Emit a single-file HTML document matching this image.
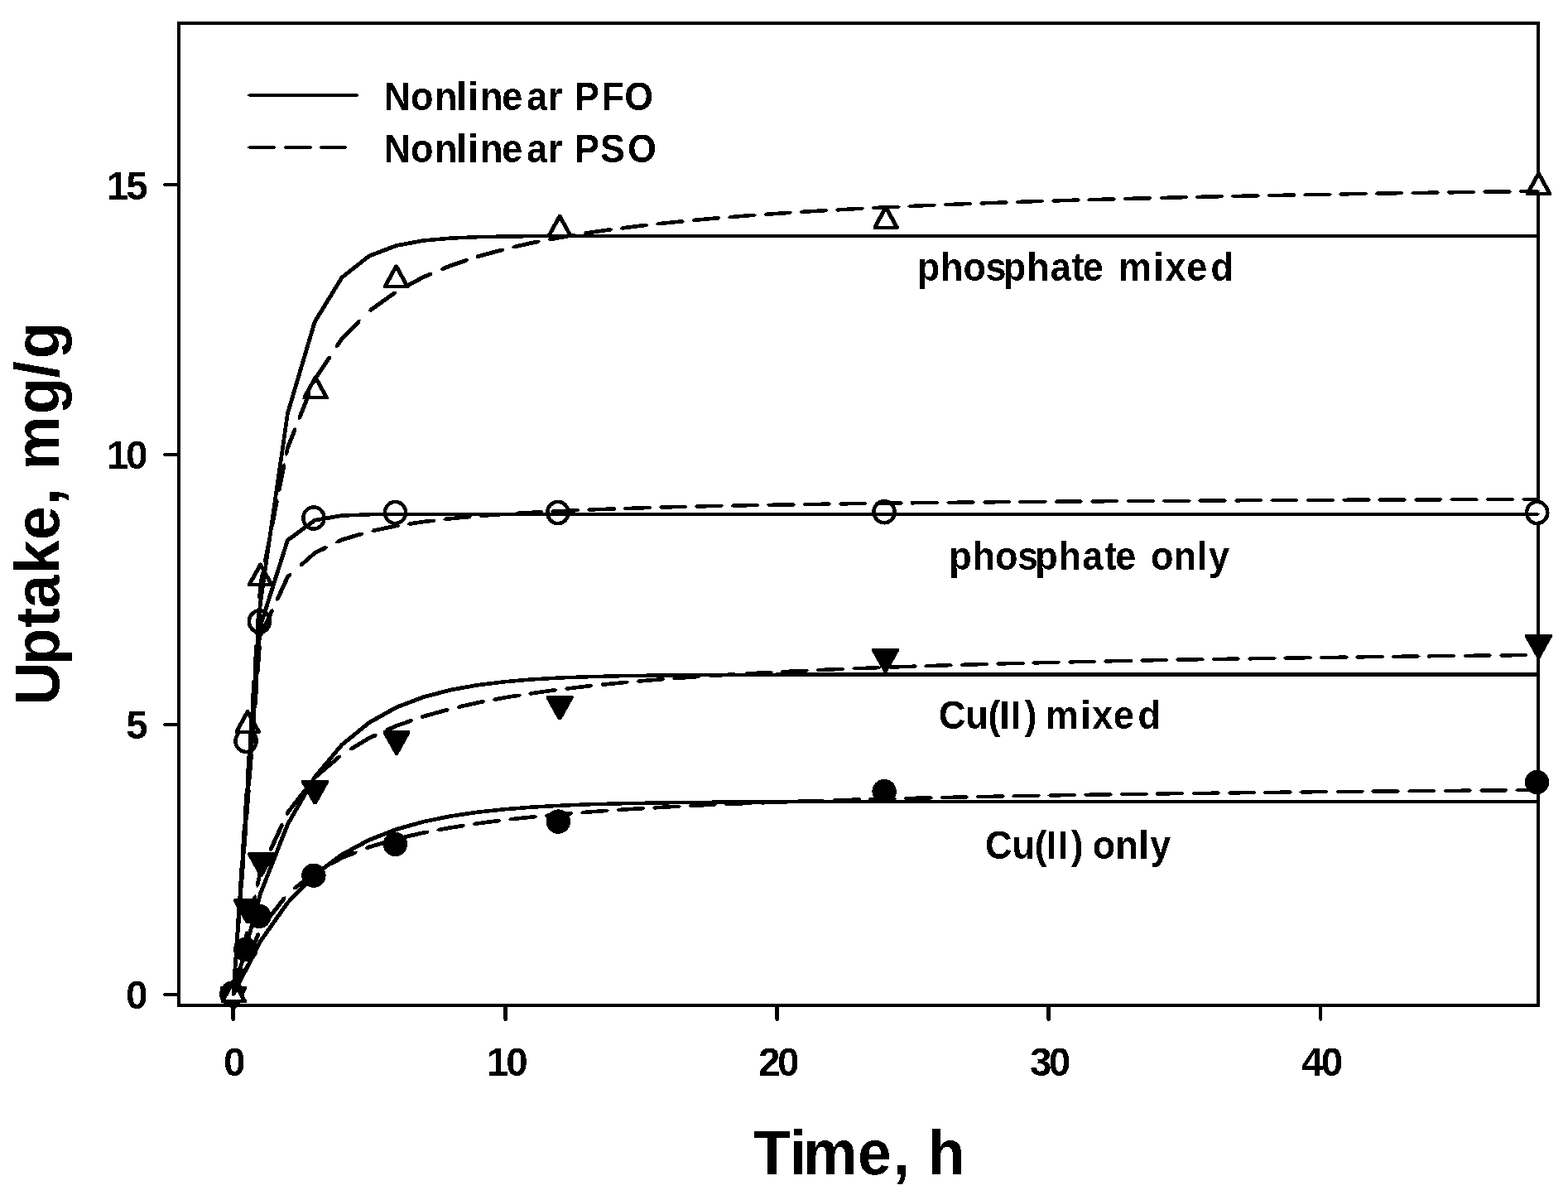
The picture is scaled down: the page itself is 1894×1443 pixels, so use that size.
<!DOCTYPE html>
<html lang="en">
<head>
<meta charset="utf-8">
<title>Uptake vs Time</title>
<style>
html,body{margin:0;padding:0;background:#fff;}
body{width:1894px;height:1443px;overflow:hidden;}
svg{display:block;filter:contrast(1000);}
</style>
</head>
<body>
<svg width="1894" height="1443" viewBox="0 0 1894 1443">
<rect x="0" y="0" width="1894" height="1443" fill="#fff"/>
<g id="axes" fill="#000" shape-rendering="crispEdges">
<rect x="214" y="26" width="1646" height="4"/>
<rect x="214" y="1212" width="1646" height="4"/>
<rect x="214" y="26" width="4" height="1190"/>
<rect x="1856" y="26" width="4" height="1190"/>
<rect x="198" y="1199" width="17" height="4"/>
<rect x="197" y="1200" width="2" height="2"/>
<rect x="198" y="873" width="17" height="4"/>
<rect x="197" y="874" width="2" height="2"/>
<rect x="198" y="547" width="17" height="4"/>
<rect x="197" y="548" width="2" height="2"/>
<rect x="198" y="221" width="17" height="4"/>
<rect x="197" y="222" width="2" height="2"/>
<polygon points="279,1215 284,1215 284,1231 283,1232 282.5,1233 280.5,1233 280,1232 279,1231"/>
<polygon points="608,1215 613,1215 613,1231 612,1232 611.5,1233 609.5,1233 609,1232 608,1231"/>
<polygon points="936,1215 941,1215 941,1231 940,1232 939.5,1233 937.5,1233 937,1232 936,1231"/>
<polygon points="1264,1215 1269,1215 1269,1231 1268,1232 1267.5,1233 1265.5,1233 1265,1232 1264,1231"/>
<polygon points="1593,1215 1597,1215 1597,1231 1596,1232 1596.0,1233 1594.0,1233 1594,1232 1593,1231"/>
</g>
<g id="markers" stroke="#000" shape-rendering="crispEdges">
<ellipse cx="280.4" cy="1199.9" rx="12.6" ry="13.1" fill="#fff" stroke-width="4.5"/>
<ellipse cx="297.1" cy="894.8" rx="12.6" ry="13.1" fill="#fff" stroke-width="4.5"/>
<ellipse cx="313.5" cy="750.5" rx="12.6" ry="13.1" fill="#fff" stroke-width="4.5"/>
<ellipse cx="378.9" cy="625.6" rx="12.6" ry="13.1" fill="#fff" stroke-width="4.5"/>
<ellipse cx="477.5" cy="619.0" rx="12.6" ry="13.1" fill="#fff" stroke-width="4.5"/>
<ellipse cx="673.9" cy="619.0" rx="12.6" ry="13.1" fill="#fff" stroke-width="4.5"/>
<ellipse cx="1068.1" cy="618.2" rx="12.6" ry="13.1" fill="#fff" stroke-width="4.5"/>
<ellipse cx="1856.7" cy="619.0" rx="12.6" ry="13.1" fill="#fff" stroke-width="4.5"/>
<circle cx="279.8" cy="1200.3" r="14.7" fill="#000" stroke="none"/>
<circle cx="296.8" cy="1146.5" r="14.7" fill="#000" stroke="none"/>
<circle cx="313.0" cy="1106.4" r="14.7" fill="#000" stroke="none"/>
<circle cx="378.9" cy="1057.2" r="14.7" fill="#000" stroke="none"/>
<circle cx="477.4" cy="1019.5" r="14.7" fill="#000" stroke="none"/>
<circle cx="674.4" cy="992.1" r="14.7" fill="#000" stroke="none"/>
<circle cx="1068.1" cy="955.6" r="14.7" fill="#000" stroke="none"/>
<circle cx="1856.6" cy="944.5" r="14.7" fill="#000" stroke="none"/>
<polygon points="266.4,1190.5 297.6,1190.5 298.4,1191.3 298.4,1193.5 283.8,1219.7 280.2,1219.7 265.6,1193.5 265.6,1191.3" fill="#000" stroke="none"/>
<polygon points="282.9,1085.4 314.1,1085.4 314.9,1086.2 314.9,1088.4 300.3,1114.6 296.7,1114.6 282.1,1088.4 282.1,1086.2" fill="#000" stroke="none"/>
<polygon points="299.9,1029.3 331.1,1029.3 331.9,1030.1 331.9,1032.3 317.3,1058.5 313.7,1058.5 299.1,1032.3 299.1,1030.1" fill="#000" stroke="none"/>
<polygon points="364.9,942.1 396.1,942.1 396.9,942.9 396.9,945.1 382.3,971.3 378.7,971.3 364.1,945.1 364.1,942.9" fill="#000" stroke="none"/>
<polygon points="463.4,882.3 494.6,882.3 495.4,883.1 495.4,885.3 480.8,911.5 477.2,911.5 462.6,885.3 462.6,883.1" fill="#000" stroke="none"/>
<polygon points="660.5,840.1 691.7,840.1 692.5,840.9 692.5,843.1 677.9,869.3 674.3,869.3 659.7,843.1 659.7,840.9" fill="#000" stroke="none"/>
<polygon points="1053.9,783.0 1085.1,783.0 1085.9,783.8 1085.9,786.0 1071.3,812.2 1067.7,812.2 1053.1,786.0 1053.1,783.8" fill="#000" stroke="none"/>
<polygon points="1842.8,766.0 1874.0,766.0 1874.8,766.8 1874.8,769.0 1860.2,795.2 1856.6,795.2 1842.0,769.0 1842.0,766.8" fill="#000" stroke="none"/>
<polygon points="268.6,1209.0 295.6,1209.0 282.1,1184.5" fill="#fff" stroke="#000" stroke-width="2.6" stroke-linejoin="miter"/>
<path d="M266.6,1207.6L267.1,1207.1L297.1,1207.1L297.6,1207.6L297.6,1210.5L297.1,1211L267.1,1211L266.6,1210.5ZM280.1,1183.1L280.6,1182.6L283.6,1182.6L284.1,1183.1L297.6,1207.6L297.6,1210.5L297.1,1211L294.1,1211L293.6,1210.5L280.1,1186ZM266.6,1207.6L280.1,1183.1L280.6,1182.6L283.6,1182.6L284.1,1183.1L284.1,1186L270.6,1210.5L270.1,1211L267.1,1211L266.6,1210.5Z" fill="#000" stroke="none"/>
<polygon points="285.6,883.8 312.6,883.8 299.1,859.2" fill="#fff" stroke="#000" stroke-width="2.6" stroke-linejoin="miter"/>
<path d="M283.6,882.3L284.1,881.8L314.1,881.8L314.6,882.3L314.6,885.2L314.1,885.7L284.1,885.7L283.6,885.2ZM297.1,857.8L297.6,857.3L300.6,857.3L301.1,857.8L314.6,882.3L314.6,885.2L314.1,885.7L311.1,885.7L310.6,885.2L297.1,860.7ZM283.6,882.3L297.1,857.8L297.6,857.3L300.6,857.3L301.1,857.8L301.1,860.7L287.6,885.2L287.1,885.7L284.1,885.7L283.6,885.2Z" fill="#000" stroke="none"/>
<polygon points="301.1,706.1 328.1,706.1 314.6,681.6" fill="#fff" stroke="#000" stroke-width="2.6" stroke-linejoin="miter"/>
<path d="M299.1,704.7L299.6,704.2L329.6,704.2L330.1,704.7L330.1,707.6L329.6,708.1L299.6,708.1L299.1,707.6ZM312.6,680.2L313.1,679.7L316.1,679.7L316.6,680.2L330.1,704.7L330.1,707.6L329.6,708.1L326.6,708.1L326.1,707.6L312.6,683.1ZM299.1,704.7L312.6,680.2L313.1,679.7L316.1,679.7L316.6,680.2L316.6,683.1L303.1,707.6L302.6,708.1L299.6,708.1L299.1,707.6Z" fill="#000" stroke="none"/>
<polygon points="367.6,480.2 394.6,480.2 381.1,455.8" fill="#fff" stroke="#000" stroke-width="2.6" stroke-linejoin="miter"/>
<path d="M365.6,478.8L366.1,478.3L396.1,478.3L396.6,478.8L396.6,481.7L396.1,482.2L366.1,482.2L365.6,481.7ZM379.1,454.3L379.6,453.8L382.6,453.8L383.1,454.3L396.6,478.8L396.6,481.7L396.1,482.2L393.1,482.2L392.6,481.7L379.1,457.2ZM365.6,478.8L379.1,454.3L379.6,453.8L382.6,453.8L383.1,454.3L383.1,457.2L369.6,481.7L369.1,482.2L366.1,482.2L365.6,481.7Z" fill="#000" stroke="none"/>
<polygon points="465.1,345.9 492.1,345.9 478.6,321.4" fill="#fff" stroke="#000" stroke-width="2.6" stroke-linejoin="miter"/>
<path d="M463.1,344.5L463.6,344L493.6,344L494.1,344.5L494.1,347.4L493.6,347.9L463.6,347.9L463.1,347.4ZM476.6,320L477.1,319.5L480.1,319.5L480.6,320L494.1,344.5L494.1,347.4L493.6,347.9L490.6,347.9L490.1,347.4L476.6,322.9ZM463.1,344.5L476.6,320L477.1,319.5L480.1,319.5L480.6,320L480.6,322.9L467.1,347.4L466.6,347.9L463.6,347.9L463.1,347.4Z" fill="#000" stroke="none"/>
<polygon points="662.6,285.4 689.6,285.4 676.1,260.9" fill="#fff" stroke="#000" stroke-width="2.6" stroke-linejoin="miter"/>
<path d="M660.6,284L661.1,283.5L691,283.5L691.5,284L691.5,286.9L691,287.4L661.1,287.4L660.6,286.9ZM674.1,259.5L674.6,259L677.5,259L678,259.5L691.5,284L691.5,286.9L691,287.4L688.1,287.4L687.6,286.9L674.1,262.4ZM660.6,284L674.1,259.5L674.6,259L677.5,259L678,259.5L678,262.4L664.5,286.9L664,287.4L661.1,287.4L660.6,286.9Z" fill="#000" stroke="none"/>
<polygon points="1056.5,274.8 1083.5,274.8 1070.0,250.3" fill="#fff" stroke="#000" stroke-width="2.6" stroke-linejoin="miter"/>
<path d="M1054.5,273.4L1055,272.9L1085,272.9L1085.5,273.4L1085.5,276.2L1085,276.8L1055,276.8L1054.5,276.2ZM1068,248.8L1068.5,248.3L1071.5,248.3L1072,248.8L1085.5,273.4L1085.5,276.2L1085,276.8L1082,276.8L1081.5,276.2L1068,251.8ZM1054.5,273.4L1068,248.8L1068.5,248.3L1071.5,248.3L1072,248.8L1072,251.8L1058.5,276.2L1058,276.8L1055,276.8L1054.5,276.2Z" fill="#000" stroke="none"/>
<polygon points="1845.0,234.0 1872.0,234.0 1858.5,209.5" fill="#fff" stroke="#000" stroke-width="2.6" stroke-linejoin="miter"/>
<path d="M1843,232.5L1843.5,232L1873.5,232L1874,232.5L1874,235.4L1873.5,235.9L1843.5,235.9L1843,235.4ZM1856.5,208L1857,207.5L1860,207.5L1860.5,208L1874,232.5L1874,235.4L1873.5,235.9L1870.5,235.9L1870,235.4L1856.5,210.9ZM1843,232.5L1856.5,208L1857,207.5L1860,207.5L1860.5,208L1860.5,210.9L1847,235.4L1846.5,235.9L1843.5,235.9L1843,235.4Z" fill="#000" stroke="none"/>
</g>
<g id="curves" fill="#000" stroke="none" shape-rendering="crispEdges">
<path d="M279.6,1198.2L312.3,726.9L313.3,725.9L315.7,725.9L316.7,726.9L316.7,729.3L284,1200.6L283,1201.6L281.5,1203L279.6,1200.6ZM312.3,726.9L345.2,498.1L346.2,497.1L348.6,497.1L349.6,498.1L349.6,500.5L316.7,729.3L315.7,730.3L313.3,730.3L312.3,729.3ZM345.2,498.1L378,387.4L379,386.4L381.4,386.4L382.4,387.4L382.4,389.8L349.6,500.5L348.6,501.5L346.2,501.5L345.2,500.5ZM378,387.4L410.8,333.9L411.8,332.9L414.2,332.9L415.2,333.9L415.2,336.2L382.4,389.8L381.4,390.8L379,390.8L378,389.8ZM410.8,333.9L411.8,332.9L444.7,306.9L447.1,306.9L448.1,307.9L448.1,310.3L447.1,311.3L414.2,337.2L411.8,337.2L410.8,336.2ZM443.7,307.9L444.7,306.9L477.5,294.4L479.9,294.4L480.9,295.4L480.9,297.8L479.9,298.8L447.1,311.3L444.7,311.3L443.7,310.3ZM476.5,295.4L477.5,294.4L510.4,288.3L512.8,288.3L513.8,289.3L513.8,291.7L512.8,292.7L479.9,298.8L477.5,298.8L476.5,297.8ZM509.4,289.3L510.4,288.3L543.2,285.4L545.6,285.4L546.6,286.4L546.6,288.8L545.6,289.8L512.8,292.7L510.4,292.7L509.4,291.7ZM542.2,286.4L543.2,285.4L576,284L578.4,284L579.4,285L579.4,287.4L578.4,288.4L545.6,289.8L543.2,289.8L542.2,288.8ZM575,285L576,284L608.9,283.3L611.3,283.3L612.3,284.3L612.3,286.7L611.3,287.7L578.4,288.4L576,288.4L575,287.4ZM607.9,284.3L608.9,283.3L641.7,283L644.1,283L645.1,284L645.1,286.4L644.1,287.4L611.3,287.7L608.9,287.7L607.9,286.7ZM640.7,284L641.7,283L674.6,282.8L677,282.8L678,283.8L678,286.2L677,287.2L644.1,287.4L641.7,287.4L640.7,286.4ZM673.6,283.8L674.6,282.8L707.4,282.7L709.8,282.7L710.8,283.7L710.8,286.1L709.8,287.1L677,287.2L674.6,287.2L673.6,286.2ZM706.4,283.7L707.4,282.7L740.2,282.7L742.6,282.7L743.6,283.7L743.6,286.1L742.6,287.1L709.8,287.1L707.4,287.1L706.4,286.1ZM739.2,283.7L740.2,282.7L773.1,282.7L775.5,282.7L776.5,283.7L776.5,286.1L775.5,287.1L742.6,287.1L740.2,287.1L739.2,286.1ZM772.1,283.7L773.1,282.7L805.9,282.6L808.3,282.6L809.3,283.6L809.3,286.1L808.3,287.1L775.5,287.1L773.1,287.1L772.1,286.1ZM804.9,283.6L805.9,282.6L838.8,282.6L841.2,282.6L842.2,283.6L842.2,286L841.2,287L808.3,287.1L805.9,287.1L804.9,286.1ZM837.8,283.6L838.8,282.6L871.6,282.6L874,282.6L875,283.6L875,286L874,287L841.2,287L838.8,287L837.8,286ZM870.6,283.6L871.6,282.6L904.4,282.6L906.8,282.6L907.8,283.6L907.8,286L906.8,287L874,287L871.6,287L870.6,286ZM903.4,283.6L904.4,282.6L937.3,282.6L939.7,282.6L940.7,283.6L940.7,286L939.7,287L906.8,287L904.4,287L903.4,286ZM936.3,283.6L937.3,282.6L972.5,282.6L973.5,283.6L973.5,286L972.5,287L937.3,287L936.3,286ZM969.1,283.6L970.1,282.6L1005.4,282.6L1006.4,283.6L1006.4,286L1005.4,287L970.1,287L969.1,286ZM1002,283.6L1003,282.6L1038.2,282.6L1039.2,283.6L1039.2,286L1038.2,287L1003,287L1002,286ZM1034.8,283.6L1035.8,282.6L1071,282.6L1072,283.6L1072,286L1071,287L1035.8,287L1034.8,286ZM1067.6,283.6L1068.6,282.6L1103.9,282.6L1104.9,283.6L1104.9,286L1103.9,287L1068.6,287L1067.6,286ZM1100.5,283.6L1101.5,282.6L1136.7,282.6L1137.7,283.6L1137.7,286L1136.7,287L1101.5,287L1100.5,286ZM1133.3,283.6L1134.3,282.6L1169.6,282.6L1170.6,283.6L1170.6,286L1169.6,287L1134.3,287L1133.3,286ZM1166.2,283.6L1167.2,282.6L1202.4,282.6L1203.4,283.6L1203.4,286L1202.4,287L1167.2,287L1166.2,286ZM1199,283.6L1200,282.6L1235.2,282.6L1236.2,283.6L1236.2,286L1235.2,287L1200,287L1199,286ZM1231.8,283.6L1232.8,282.6L1268.1,282.6L1269.1,283.6L1269.1,286L1268.1,287L1232.8,287L1231.8,286ZM1264.7,283.6L1265.7,282.6L1300.9,282.6L1301.9,283.6L1301.9,286L1300.9,287L1265.7,287L1264.7,286ZM1297.5,283.6L1298.5,282.6L1333.8,282.6L1334.8,283.6L1334.8,286L1333.8,287L1298.5,287L1297.5,286ZM1330.4,283.6L1331.4,282.6L1366.6,282.6L1367.6,283.6L1367.6,286L1366.6,287L1331.4,287L1330.4,286ZM1363.2,283.6L1364.2,282.6L1399.4,282.6L1400.4,283.6L1400.4,286L1399.4,287L1364.2,287L1363.2,286ZM1396,283.6L1397,282.6L1432.3,282.6L1433.3,283.6L1433.3,286L1432.3,287L1397,287L1396,286ZM1428.9,283.6L1429.9,282.6L1465.1,282.6L1466.1,283.6L1466.1,286L1465.1,287L1429.9,287L1428.9,286ZM1461.7,283.6L1462.7,282.6L1498,282.6L1499,283.6L1499,286L1498,287L1462.7,287L1461.7,286ZM1494.6,283.6L1495.6,282.6L1530.8,282.6L1531.8,283.6L1531.8,286L1530.8,287L1495.6,287L1494.6,286ZM1527.4,283.6L1528.4,282.6L1563.6,282.6L1564.6,283.6L1564.6,286L1563.6,287L1528.4,287L1527.4,286ZM1560.2,283.6L1561.2,282.6L1596.5,282.6L1597.5,283.6L1597.5,286L1596.5,287L1561.2,287L1560.2,286ZM1593.1,283.6L1594.1,282.6L1629.3,282.6L1630.3,283.6L1630.3,286L1629.3,287L1594.1,287L1593.1,286ZM1625.9,283.6L1626.9,282.6L1662.2,282.6L1663.2,283.6L1663.2,286L1662.2,287L1626.9,287L1625.9,286ZM1658.8,283.6L1659.8,282.6L1695,282.6L1696,283.6L1696,286L1695,287L1659.8,287L1658.8,286ZM1691.6,283.6L1692.6,282.6L1727.8,282.6L1728.8,283.6L1728.8,286L1727.8,287L1692.6,287L1691.6,286ZM1724.4,283.6L1725.4,282.6L1760.7,282.6L1761.7,283.6L1761.7,286L1760.7,287L1725.4,287L1724.4,286ZM1757.3,283.6L1758.3,282.6L1793.5,282.6L1794.5,283.6L1794.5,286L1793.5,287L1758.3,287L1757.3,286ZM1790.1,283.6L1791.1,282.6L1826.4,282.6L1827.4,283.6L1827.4,286L1826.4,287L1791.1,287L1790.1,286ZM1823,283.6L1824,282.6L1857.6,282.6L1860,284.8L1857.6,287L1824,287L1823,286Z"/>
<path d="M279.6,1197.5L281.5,1169.7L282.5,1168.7L283.9,1167.3L285.9,1169.7L285.9,1172.1L284,1199.9L283,1200.9L281.6,1202.3L279.6,1199.9ZM282.5,1154L284.4,1126.2L285.4,1125.2L286.8,1123.8L288.8,1126.2L288.8,1128.6L286.9,1156.4L285.9,1157.4L284.5,1158.8L282.5,1156.4ZM285.4,1110.6L287.2,1082.8L288.2,1081.8L289.7,1080.4L291.6,1082.8L291.6,1085.2L289.8,1113L288.8,1114L287.4,1115.4L285.4,1113ZM288.3,1067.2L290.1,1039.4L291.1,1038.4L292.6,1037L294.5,1039.4L294.5,1041.8L292.7,1069.6L291.7,1070.6L290.2,1072L288.3,1069.6ZM291.2,1023.7L293,995.9L294,994.9L295.4,993.5L297.4,995.9L297.4,998.3L295.6,1026.1L294.6,1027.1L293.1,1028.5L291.2,1026.1ZM294,980.3L295.9,952.5L296.9,951.5L298.3,950.1L300.3,952.5L300.3,954.9L298.4,982.7L297.4,983.7L296,985.1L294,982.7ZM296.9,936.9L298.8,909.1L299.8,908.1L301.2,906.7L303.2,909.1L303.2,911.5L301.3,939.3L300.3,940.3L298.9,941.7L296.9,939.3ZM299.8,893.5L301.6,865.6L302.6,864.6L304.1,863.3L306,865.6L306,868L304.2,895.9L303.2,896.9L301.8,898.2L299.8,895.9ZM302.7,850L304.5,822.2L305.5,821.2L307,819.8L308.9,822.2L308.9,824.6L307.1,852.4L306.1,853.4L304.6,854.8L302.7,852.4ZM305.6,806.6L307.4,778.8L308.4,777.8L309.8,776.4L311.8,778.8L311.8,781.2L310,809L309,810L307.5,811.4L305.6,809ZM308.4,763.2L310.3,735.4L311.3,734.4L312.7,733L314.7,735.4L314.7,737.8L312.8,765.6L311.8,766.6L310.4,768L308.4,765.6ZM311.3,719.7L312.3,704.7L313.3,703.7L315.7,703.7L316.7,704.7L316.7,707.1L315.7,722.1L314.7,723.1L313.3,724.5L311.3,722.1ZM312.3,704.7L314.9,691.9L315.9,690.9L317.8,689.6L319.3,691.9L319.3,694.3L316.7,707.1L315.7,708.1L313.3,708.1L312.3,707.1ZM318,676.3L323.5,648.5L324.5,647.5L326.4,646.1L327.9,648.5L327.9,650.9L322.4,678.7L321.4,679.7L319.5,681.1L318,678.7ZM326.6,632.9L332.1,605L333.1,604L335,602.7L336.5,605L336.5,607.4L331,635.3L330,636.3L328.1,637.6L326.6,635.3ZM335.2,589.5L340.8,561.6L341.8,560.6L343.7,559.3L345.2,561.6L345.2,564L339.6,591.9L338.6,592.9L336.7,594.2L335.2,591.9ZM343.9,546L345.2,539.6L346.2,538.6L348.6,538.6L349.6,539.6L349.6,542L348.3,548.4L347.3,549.4L345.4,550.8L343.9,548.4ZM345.2,539.6L353.7,518.1L354.7,517.1L357.2,516L358.1,518.1L358.1,520.5L349.6,542L348.6,543L346.2,543L345.2,542ZM359.8,502.7L371,474.7L372,473.7L374.5,472.5L375.4,474.7L375.4,477.1L364.2,505.1L363.2,506.1L360.7,507.2L359.8,505.1ZM377.1,459.3L378,457.1L379,456.1L381.4,456.1L382.4,457.1L382.4,459.5L381.5,461.7L380.5,462.7L378,463.8L377.1,461.7ZM378,457.1L395.2,431.1L396.2,430.1L399.4,429.3L399.6,431.1L399.6,433.5L382.4,459.5L381.4,460.5L379,460.5L378,459.5ZM405.3,416L410.8,407.6L411.8,406.6L414.2,406.6L415.2,407.6L415.2,410L409.7,418.4L408.7,419.4L405.5,420.2L405.3,418.4ZM410.8,407.6L430.8,387.5L431.8,386.5L435.6,386.1L435.2,389.9L415.2,410L414.2,411L411.8,411L410.8,410ZM444.9,376.4L445.6,373.1L446.6,372.1L475,351.8L477.4,351.8L479.2,351.9L478.4,355.2L477.4,356.2L449,376.5L446.6,376.5ZM488.2,347.1L489.2,344.2L490.2,343.2L510.4,332.3L512.8,332.3L513.8,333.3L513.8,335.7L512.8,336.7L492.6,347.6L490.2,347.6ZM509.4,333.3L510.4,332.3L518.3,329L520.7,329L522.8,329.8L521.7,332.4L520.7,333.4L512.8,336.7L510.4,336.7L509.4,335.7ZM531.6,326.1L532.7,323.5L533.7,322.5L543.2,318.5L545.6,318.5L546.6,319.5L546.6,321.9L545.6,322.9L536.1,326.9L533.7,326.9ZM542.2,319.5L543.2,318.5L561.7,312.3L564.1,312.3L566.3,313.4L565.1,315.7L564.1,316.7L545.6,322.9L543.2,322.9L542.2,321.9ZM574.8,308.6L575.8,307.6L576,307.5L578.4,307.5L579.4,308.5L579.4,310.9L578.4,311.9L578.2,312L575.8,312L574.8,311ZM575,308.5L576,307.5L605.1,299.6L607.5,299.6L609.8,300.8L608.5,303L607.5,304L578.4,311.9L576,311.9L575,310.9ZM618.3,298.8L619.6,296.8L620.6,295.8L641.7,291L644.1,291L645.1,292L645.1,294.4L644.1,295.4L623,300.2L620.6,300.2ZM640.7,292L641.7,291L648.5,289.7L650.9,289.7L653.2,291.2L651.9,293.1L650.9,294.1L644.1,295.4L641.7,295.4L640.7,294.4ZM661.7,289.6L663.1,287.7L664.1,286.7L674.6,284.7L677,284.7L678,285.7L678,288.1L677,289.1L666.5,291.1L664.1,291.1ZM673.6,285.7L674.6,284.7L691.9,281.8L694.3,281.8L696.7,283.4L695.3,285.2L694.3,286.2L677,289.1L674.6,289.1L673.6,288.1ZM705.1,282L705.6,280.4L706.6,279.4L707.4,279.2L709.8,279.2L710.8,280.2L710.8,282.6L709.8,283.6L709,283.8L706.6,283.8L705.6,282.8ZM706.4,280.2L707.4,279.2L735.3,275.2L737.7,275.2L740.1,276.9L738.7,278.6L737.7,279.6L709.8,283.6L707.4,283.6L706.4,282.6ZM748.6,275.8L749.9,274.2L750.9,273.2L773.1,270.4L775.5,270.4L776.5,271.4L776.5,273.8L775.5,274.8L753.3,277.6L750.9,277.6ZM772.1,271.4L773.1,270.4L778.8,269.8L781.2,269.8L783.5,271.6L782.2,273.2L781.2,274.2L775.5,274.8L773.1,274.8L772.1,273.8ZM792,270.6L793.4,269L794.4,268L805.9,266.8L808.3,266.8L809.3,267.8L809.3,270.2L808.3,271.2L796.8,272.4L794.4,272.4ZM804.9,267.8L805.9,266.8L822.2,265.2L824.6,265.2L827,267L825.6,268.6L824.6,269.6L808.3,271.2L805.9,271.2L804.9,270.2ZM835.4,266.2L836.4,264.7L837.4,263.7L838.8,263.5L841.2,263.5L842.2,264.5L842.2,266.9L841.2,267.9L839.8,268.1L837.4,268.1ZM837.8,264.5L838.8,263.5L865.6,261.1L868,261.1L870.4,263L869,264.6L868,265.6L841.2,267.9L838.8,267.9L837.8,266.9ZM878.8,262.3L880.2,260.9L881.2,259.9L904.4,258L906.8,258L907.8,259L907.8,261.4L906.8,262.4L883.6,264.3L881.2,264.3ZM903.4,259L904.4,258L909,257.7L911.4,257.7L913.8,259.6L912.4,261.1L911.4,262.1L906.8,262.4L904.4,262.4L903.4,261.4ZM922.3,259L923.7,257.6L924.7,256.6L937.3,255.7L939.7,255.7L940.7,256.7L940.7,259.1L939.7,260.1L927.1,261L924.7,261ZM936.3,256.7L937.3,255.7L952.5,254.7L954.9,254.7L957.3,256.6L955.9,258.1L954.9,259.1L939.7,260.1L937.3,260.1L936.3,259.1ZM965.7,256.1L967.1,254.6L968.1,253.6L970.1,253.5L972.5,253.5L973.5,254.5L973.5,256.9L972.5,257.9L970.5,258L968.1,258ZM969.1,254.5L970.1,253.5L995.9,252L998.3,252L1000.7,254L999.3,255.4L998.3,256.4L972.5,257.9L970.1,257.9L969.1,256.9ZM1009.1,253.5L1010.5,252.1L1011.5,251.1L1035.8,249.8L1038.2,249.8L1039.2,250.8L1039.2,253.2L1038.2,254.2L1013.9,255.5L1011.5,255.5ZM1034.8,250.8L1035.8,249.8L1039.3,249.6L1041.7,249.6L1044.1,251.6L1041.7,254L1038.2,254.2L1035.8,254.2L1034.8,253.2ZM1052.6,251.2L1055,248.8L1068.6,248.1L1071,248.1L1072,249.1L1072,251.5L1071,252.5L1057.4,253.2L1055,253.2ZM1067.6,249.1L1068.6,248.1L1082.8,247.5L1085.2,247.5L1087.6,249.5L1085.2,251.9L1071,252.5L1068.6,252.5L1067.6,251.5ZM1096,249.1L1098.4,246.7L1101.5,246.6L1103.9,246.6L1104.9,247.6L1104.9,250L1103.9,251L1100.8,251.1L1098.4,251.1ZM1100.5,247.6L1101.5,246.6L1126.2,245.5L1128.6,245.5L1131,247.6L1128.6,249.9L1103.9,251L1101.5,251L1100.5,250ZM1139.4,247.2L1141.8,244.9L1167.2,243.9L1169.6,243.9L1170.6,244.9L1170.6,247.3L1169.6,248.3L1144.2,249.3L1141.8,249.3ZM1166.2,244.9L1167.2,243.9L1169.6,243.8L1172,243.8L1174.4,245.8L1172,248.2L1169.6,248.3L1167.2,248.3L1166.2,247.3ZM1182.9,245.5L1185.2,243.2L1200,242.7L1202.4,242.7L1203.4,243.7L1203.4,246.1L1202.4,247.1L1187.7,247.6L1185.2,247.6ZM1199,243.7L1200,242.7L1213.1,242.2L1215.5,242.2L1217.8,244.3L1215.5,246.6L1202.4,247.1L1200,247.1L1199,246.1ZM1226.3,244L1228.7,241.7L1232.8,241.5L1235.2,241.5L1236.2,242.5L1236.2,244.9L1235.2,245.9L1231.1,246.1L1228.7,246.1ZM1231.8,242.5L1232.8,241.5L1256.5,240.7L1258.9,240.7L1261.3,242.8L1258.9,245.1L1235.2,245.9L1232.8,245.9L1231.8,244.9ZM1269.7,242.6L1272.1,240.3L1298.5,239.4L1300.9,239.4L1301.9,240.4L1301.9,242.8L1300.9,243.8L1274.5,244.7L1272.1,244.7ZM1297.5,240.4L1298.5,239.4L1300.2,239.4L1302.6,239.4L1304.7,241.5L1303.6,242.8L1302.6,243.8L1300.9,243.8L1298.5,243.8L1297.5,242.8ZM1313.1,241.3L1315.5,239L1331.4,238.5L1333.8,238.5L1334.8,239.5L1334.8,241.9L1333.8,242.9L1317.9,243.4L1315.5,243.4ZM1330.4,239.5L1331.4,238.5L1343.3,238.2L1345.7,238.2L1348.1,240.3L1345.7,242.6L1333.8,242.9L1331.4,242.9L1330.4,241.9ZM1356.6,240.1L1359,237.8L1364.2,237.6L1366.6,237.6L1367.6,238.6L1367.6,241L1366.6,242L1361.4,242.2L1359,242.2ZM1363.2,238.6L1364.2,237.6L1386.8,237.1L1389.2,237.1L1391.6,239.2L1389.2,241.5L1366.6,242L1364.2,242L1363.2,241ZM1400,239L1402.4,236.7L1429.9,236L1432.3,236L1433.3,237L1433.3,239.4L1432.3,240.4L1404.8,241.1L1402.4,241.1ZM1428.9,237L1429.9,236L1430.9,236L1433.3,236L1434.3,237L1435,238.1L1434.3,239.4L1433.3,240.4L1432.3,240.4L1429.9,240.4L1428.9,239.4ZM1443.4,237.9L1445.8,235.6L1462.7,235.3L1465.1,235.3L1466.1,236.3L1466.1,238.7L1465.1,239.7L1448.2,240L1445.8,240ZM1461.7,236.3L1462.7,235.3L1473.6,235L1476,235L1478.4,237.2L1476,239.4L1465.1,239.7L1462.7,239.7L1461.7,238.7ZM1486.9,237L1489.3,234.7L1495.6,234.6L1498,234.6L1499,235.6L1499,238L1498,239L1491.7,239.1L1489.3,239.1ZM1494.6,235.6L1495.6,234.6L1517.1,234.1L1519.5,234.1L1521.9,236.3L1519.5,238.5L1498,239L1495.6,239L1494.6,238ZM1530.3,236.1L1532.7,233.8L1561.2,233.3L1563.6,233.3L1564.6,234.3L1564.6,236.7L1563.6,237.7L1535.1,238.2L1532.7,238.2ZM1560.2,234.3L1561.2,233.3L1561.7,233.2L1564.1,233.2L1565.1,234.2L1565.3,235.4L1565.1,236.7L1564.1,237.7L1563.6,237.7L1561.2,237.7L1560.2,236.7ZM1573.7,235.3L1576.1,233L1594.1,232.7L1596.5,232.7L1597.5,233.7L1597.5,236.1L1596.5,237.1L1578.5,237.4L1576.1,237.4ZM1593.1,233.7L1594.1,232.7L1603.9,232.5L1606.3,232.5L1608.7,234.6L1606.3,236.9L1596.5,237.1L1594.1,237.1L1593.1,236.1ZM1617.2,234.5L1619.6,232.2L1626.9,232.1L1629.3,232.1L1630.3,233.1L1630.3,235.5L1629.3,236.5L1622,236.6L1619.6,236.6ZM1625.9,233.1L1626.9,232.1L1647.4,231.7L1649.8,231.7L1652.2,233.9L1649.8,236.1L1629.3,236.5L1626.9,236.5L1625.9,235.5ZM1660.6,233.7L1663,231.5L1690.8,231L1693.2,231L1695.6,233.2L1693.2,235.4L1665.4,235.9L1663,235.9ZM1704,233.1L1706.4,230.8L1725.4,230.5L1727.8,230.5L1728.8,231.5L1728.8,233.9L1727.8,234.9L1708.8,235.2L1706.4,235.2ZM1724.4,231.5L1725.4,230.5L1734.2,230.4L1736.6,230.4L1739,232.5L1736.6,234.8L1727.8,234.9L1725.4,234.9L1724.4,233.9ZM1747.4,232.4L1749.8,230.2L1758.3,230L1760.7,230L1761.7,231L1761.7,233.4L1760.7,234.4L1752.2,234.6L1749.8,234.6ZM1757.3,231L1758.3,230L1777.6,229.8L1780,229.8L1782.4,231.9L1780,234.2L1760.7,234.4L1758.3,234.4L1757.3,233.4ZM1790.9,231.8L1793.3,229.5L1821.1,229.2L1823.5,229.2L1825.9,231.3L1823.5,233.6L1795.7,233.9L1793.3,233.9ZM1834.3,231.2L1836.7,229L1855.2,228.7L1857.6,228.7L1860,230.9L1857.6,233.1L1839.1,233.4L1836.7,233.4Z"/>
<path d="M279.6,1198.2L312.3,754.8L313.3,753.8L315.7,753.8L316.7,754.8L316.7,757.2L284,1200.6L283,1201.6L281.5,1203L279.6,1200.6ZM312.3,754.8L345.2,651.2L346.2,650.2L348.6,650.2L349.6,651.2L349.6,653.6L316.7,757.2L315.7,758.2L313.3,758.2L312.3,757.2ZM345.2,651.2L346.2,650.2L379,626L381.4,626L382.4,627L382.4,629.5L381.4,630.5L348.6,654.6L346.2,654.6L345.2,653.6ZM378,627L379,626L411.8,620.4L414.2,620.4L415.2,621.4L415.2,623.8L414.2,624.8L381.4,630.5L379,630.5L378,629.5ZM410.8,621.4L411.8,620.4L444.7,619.1L447.1,619.1L448.1,620.1L448.1,622.5L447.1,623.5L414.2,624.8L411.8,624.8L410.8,623.8ZM443.7,620.1L444.7,619.1L477.5,618.8L479.9,618.8L480.9,619.8L480.9,622.2L479.9,623.2L447.1,623.5L444.7,623.5L443.7,622.5ZM476.5,619.8L477.5,618.8L510.4,618.7L512.8,618.7L513.8,619.7L513.8,622.1L512.8,623.1L479.9,623.2L477.5,623.2L476.5,622.2ZM509.4,619.7L510.4,618.7L543.2,618.7L545.6,618.7L546.6,619.7L546.6,622.1L545.6,623.1L512.8,623.1L510.4,623.1L509.4,622.1ZM542.2,619.7L543.2,618.7L576,618.7L578.4,618.7L579.4,619.7L579.4,622.1L578.4,623.1L545.6,623.1L543.2,623.1L542.2,622.1ZM575,619.7L576,618.7L608.9,618.7L611.3,618.7L612.3,619.7L612.3,622.1L611.3,623.1L578.4,623.1L576,623.1L575,622.1ZM607.9,619.7L608.9,618.7L644.1,618.7L645.1,619.7L645.1,622.1L644.1,623.1L608.9,623.1L607.9,622.1ZM640.7,619.7L641.7,618.7L677,618.7L678,619.7L678,622.1L677,623.1L641.7,623.1L640.7,622.1ZM673.6,619.7L674.6,618.7L709.8,618.7L710.8,619.7L710.8,622.1L709.8,623.1L674.6,623.1L673.6,622.1ZM706.4,619.7L707.4,618.7L742.6,618.7L743.6,619.7L743.6,622.1L742.6,623.1L707.4,623.1L706.4,622.1ZM739.2,619.7L740.2,618.7L775.5,618.7L776.5,619.7L776.5,622.1L775.5,623.1L740.2,623.1L739.2,622.1ZM772.1,619.7L773.1,618.7L808.3,618.7L809.3,619.7L809.3,622.1L808.3,623.1L773.1,623.1L772.1,622.1ZM804.9,619.7L805.9,618.7L841.2,618.7L842.2,619.7L842.2,622.1L841.2,623.1L805.9,623.1L804.9,622.1ZM837.8,619.7L838.8,618.7L874,618.7L875,619.7L875,622.1L874,623.1L838.8,623.1L837.8,622.1ZM870.6,619.7L871.6,618.7L906.8,618.7L907.8,619.7L907.8,622.1L906.8,623.1L871.6,623.1L870.6,622.1ZM903.4,619.7L904.4,618.7L939.7,618.7L940.7,619.7L940.7,622.1L939.7,623.1L904.4,623.1L903.4,622.1ZM936.3,619.7L937.3,618.7L972.5,618.7L973.5,619.7L973.5,622.1L972.5,623.1L937.3,623.1L936.3,622.1ZM969.1,619.7L970.1,618.7L1005.4,618.7L1006.4,619.7L1006.4,622.1L1005.4,623.1L970.1,623.1L969.1,622.1ZM1002,619.7L1003,618.7L1038.2,618.7L1039.2,619.7L1039.2,622.1L1038.2,623.1L1003,623.1L1002,622.1ZM1034.8,619.7L1035.8,618.7L1071,618.7L1072,619.7L1072,622.1L1071,623.1L1035.8,623.1L1034.8,622.1ZM1067.6,619.7L1068.6,618.7L1103.9,618.7L1104.9,619.7L1104.9,622.1L1103.9,623.1L1068.6,623.1L1067.6,622.1ZM1100.5,619.7L1101.5,618.7L1136.7,618.7L1137.7,619.7L1137.7,622.1L1136.7,623.1L1101.5,623.1L1100.5,622.1ZM1133.3,619.7L1134.3,618.7L1169.6,618.7L1170.6,619.7L1170.6,622.1L1169.6,623.1L1134.3,623.1L1133.3,622.1ZM1166.2,619.7L1167.2,618.7L1202.4,618.7L1203.4,619.7L1203.4,622.1L1202.4,623.1L1167.2,623.1L1166.2,622.1ZM1199,619.7L1200,618.7L1235.2,618.7L1236.2,619.7L1236.2,622.1L1235.2,623.1L1200,623.1L1199,622.1ZM1231.8,619.7L1232.8,618.7L1268.1,618.7L1269.1,619.7L1269.1,622.1L1268.1,623.1L1232.8,623.1L1231.8,622.1ZM1264.7,619.7L1265.7,618.7L1300.9,618.7L1301.9,619.7L1301.9,622.1L1300.9,623.1L1265.7,623.1L1264.7,622.1ZM1297.5,619.7L1298.5,618.7L1333.8,618.7L1334.8,619.7L1334.8,622.1L1333.8,623.1L1298.5,623.1L1297.5,622.1ZM1330.4,619.7L1331.4,618.7L1366.6,618.7L1367.6,619.7L1367.6,622.1L1366.6,623.1L1331.4,623.1L1330.4,622.1ZM1363.2,619.7L1364.2,618.7L1399.4,618.7L1400.4,619.7L1400.4,622.1L1399.4,623.1L1364.2,623.1L1363.2,622.1ZM1396,619.7L1397,618.7L1432.3,618.7L1433.3,619.7L1433.3,622.1L1432.3,623.1L1397,623.1L1396,622.1ZM1428.9,619.7L1429.9,618.7L1465.1,618.7L1466.1,619.7L1466.1,622.1L1465.1,623.1L1429.9,623.1L1428.9,622.1ZM1461.7,619.7L1462.7,618.7L1498,618.7L1499,619.7L1499,622.1L1498,623.1L1462.7,623.1L1461.7,622.1ZM1494.6,619.7L1495.6,618.7L1530.8,618.7L1531.8,619.7L1531.8,622.1L1530.8,623.1L1495.6,623.1L1494.6,622.1ZM1527.4,619.7L1528.4,618.7L1563.6,618.7L1564.6,619.7L1564.6,622.1L1563.6,623.1L1528.4,623.1L1527.4,622.1ZM1560.2,619.7L1561.2,618.7L1596.5,618.7L1597.5,619.7L1597.5,622.1L1596.5,623.1L1561.2,623.1L1560.2,622.1ZM1593.1,619.7L1594.1,618.7L1629.3,618.7L1630.3,619.7L1630.3,622.1L1629.3,623.1L1594.1,623.1L1593.1,622.1ZM1625.9,619.7L1626.9,618.7L1662.2,618.7L1663.2,619.7L1663.2,622.1L1662.2,623.1L1626.9,623.1L1625.9,622.1ZM1658.8,619.7L1659.8,618.7L1695,618.7L1696,619.7L1696,622.1L1695,623.1L1659.8,623.1L1658.8,622.1ZM1691.6,619.7L1692.6,618.7L1727.8,618.7L1728.8,619.7L1728.8,622.1L1727.8,623.1L1692.6,623.1L1691.6,622.1ZM1724.4,619.7L1725.4,618.7L1760.7,618.7L1761.7,619.7L1761.7,622.1L1760.7,623.1L1725.4,623.1L1724.4,622.1ZM1757.3,619.7L1758.3,618.7L1793.5,618.7L1794.5,619.7L1794.5,622.1L1793.5,623.1L1758.3,623.1L1757.3,622.1ZM1790.1,619.7L1791.1,618.7L1826.4,618.7L1827.4,619.7L1827.4,622.1L1826.4,623.1L1791.1,623.1L1790.1,622.1ZM1823,619.7L1824,618.7L1857.6,618.7L1860,620.9L1857.6,623.1L1824,623.1L1823,622.1Z"/>
<path d="M279.6,1198.2L281.6,1171.4L282.6,1170.4L284.1,1169L286,1171.4L286,1173.8L284,1200.6L283,1201.6L281.5,1203L279.6,1200.6ZM282.8,1155.8L284.9,1128L285.9,1127L287.4,1125.6L289.3,1128L289.3,1130.4L287.2,1158.2L286.2,1159.2L284.7,1160.6L282.8,1158.2ZM286.1,1112.3L288.2,1084.5L289.2,1083.5L290.7,1082.1L292.6,1084.5L292.6,1086.9L290.5,1114.7L289.5,1115.7L288,1117.1L286.1,1114.7ZM289.4,1068.9L291.5,1041.1L292.5,1040.1L294,1038.7L295.9,1041.1L295.9,1043.5L293.8,1071.3L292.8,1072.3L291.3,1073.7L289.4,1071.3ZM292.7,1025.5L294.8,997.7L295.8,996.7L297.3,995.3L299.2,997.7L299.2,1000.1L297.1,1027.9L296.1,1028.9L294.6,1030.3L292.7,1027.9ZM296,982L298.1,954.2L299.1,953.2L300.6,951.8L302.5,954.2L302.5,956.6L300.4,984.4L299.4,985.4L297.9,986.8L296,984.4ZM299.3,938.6L301.4,910.8L302.4,909.8L303.9,908.4L305.8,910.8L305.8,913.2L303.7,941L302.7,942L301.2,943.4L299.3,941ZM302.6,895.2L304.7,867.4L305.7,866.4L307.2,865L309.1,867.4L309.1,869.8L307,897.6L306,898.6L304.5,900L302.6,897.6ZM305.9,851.8L308,823.9L309,822.9L310.4,821.6L312.4,823.9L312.4,826.3L310.3,854.2L309.3,855.2L307.8,856.5L305.9,854.2ZM309.2,808.3L311.3,780.5L312.3,779.5L313.7,778.1L315.7,780.5L315.7,782.9L313.6,810.7L312.6,811.7L311.1,813.1L309.2,810.7ZM313.1,765L326.1,736.9L327.1,735.9L329.8,734.9L330.5,736.9L330.5,739.3L317.5,767.4L316.5,768.4L313.8,769.5L313.1,767.4ZM333.2,721.6L345.2,695.7L346.2,694.7L348.6,694.7L349.6,695.7L349.6,698.1L337.6,724L336.6,725L333.8,726.1L333.2,724ZM345.2,695.7L346.2,694.7L348.6,692.5L352.4,692.3L352,695.9L351,696.9L348.6,699.1L346.2,699.1L345.2,698.1ZM361.9,684L362.4,680.4L363.4,679.4L379,665.5L381.4,665.5L382.4,666.5L382.4,668.9L381.4,669.9L365.8,683.8ZM378,666.5L379,665.5L391.7,659.4L394.1,659.4L396.2,660L395.1,662.8L394.1,663.8L381.4,669.9L379,669.9L378,668.9ZM405,655.7L406.1,653L407.1,652L411.8,649.6L414.2,649.6L415.2,650.6L415.2,653L414.2,654L409.5,656.4L407.1,656.4ZM410.8,650.6L411.8,649.6L435.1,642.6L437.5,642.6L439.7,643.7L438.5,646L437.5,647L414.2,654L411.8,654L410.8,653ZM448.3,641.4L449.6,639.4L450.6,638.4L477.5,632.8L479.9,632.8L480.9,633.8L480.9,636.2L479.9,637.2L453,642.8L450.6,642.8ZM476.5,633.8L477.5,632.8L478.9,632.6L481.3,632.6L483.2,634.3L482.3,636L481.3,637L479.9,637.2L477.5,637.2L476.5,636.2ZM491.7,633L493.1,631.3L494.1,630.3L510.4,627.8L512.8,627.8L513.8,628.8L513.8,631.2L512.8,632.2L496.5,634.7L494.1,634.7ZM509.4,628.8L510.4,627.8L521.9,626.5L524.3,626.5L526.7,628.2L525.3,629.9L524.3,630.9L512.8,632.2L510.4,632.2L509.4,631.2ZM535.1,627.3L536.5,625.6L537.5,624.6L543.2,624L545.6,624L546.6,625L546.6,627.4L545.6,628.4L539.9,629L537.5,629ZM542.2,625L543.2,624L565.3,622L567.7,622L570.1,623.8L568.7,625.4L567.7,626.4L545.6,628.4L543.2,628.4L542.2,627.4ZM578.5,623.1L579.9,621.6L580.9,620.6L608.9,618.6L611.3,618.6L612.3,619.6L612.3,622L611.3,623L583.3,625L580.9,625ZM607.9,619.6L608.9,618.6L609.7,618.5L612.1,618.5L613.1,619.5L613.5,620.5L613.1,621.9L612.1,622.9L611.3,623L608.9,623L607.9,622ZM622,620L623.4,618.6L624.4,617.6L641.7,616.6L644.1,616.6L645.1,617.6L645.1,620L644.1,621L626.8,622L624.4,622ZM640.7,617.6L641.7,616.6L652.2,616L654.6,616L657,618L654.6,620.4L644.1,621L641.7,621L640.7,620ZM665.4,617.6L667.8,615.2L674.6,614.9L677,614.9L678,615.9L678,618.3L677,619.3L670.2,619.6L667.8,619.6ZM673.6,615.9L674.6,614.9L695.6,614L698,614L700.4,616L698,618.4L677,619.3L674.6,619.3L673.6,618.3ZM708.8,615.6L711.2,613.3L740.2,612.2L742.6,612.2L743.6,613.2L743.6,615.6L742.6,616.6L713.6,617.7L711.2,617.7ZM739.2,613.2L740.2,612.2L740.5,612.2L742.9,612.2L743.9,613.2L743.9,615.6L742.9,616.6L742.6,616.6L740.2,616.6L739.2,615.6ZM752.3,614.1L754.6,611.8L773.1,611.2L775.5,611.2L776.5,612.2L776.5,614.6L775.5,615.6L757,616.2L754.6,616.2ZM772.1,612.2L773.1,611.2L782.5,610.9L784.9,610.9L787.2,613L784.9,615.3L775.5,615.6L773.1,615.6L772.1,614.6ZM795.7,612.8L798.1,610.4L805.9,610.2L808.3,610.2L809.3,611.2L809.3,613.6L808.3,614.6L800.5,614.8L798.1,614.8ZM804.9,611.2L805.9,610.2L825.9,609.7L828.3,609.7L830.7,611.8L828.3,614.1L808.3,614.6L805.9,614.6L804.9,613.6ZM839.1,611.6L841.5,609.3L869.3,608.7L871.7,608.7L874.1,610.8L871.7,613.1L843.9,613.7L841.5,613.7ZM882.5,610.7L884.9,608.4L904.4,608L906.8,608L907.8,609L907.8,611.4L906.8,612.4L887.3,612.8L884.9,612.8ZM903.4,609L904.4,608L912.7,607.8L915.1,607.8L917.5,610L915.1,612.2L906.8,612.4L904.4,612.4L903.4,611.4ZM926,609.8L928.4,607.6L937.3,607.4L939.7,607.4L940.7,608.4L940.7,610.8L939.7,611.8L930.8,612L928.4,612ZM936.3,608.4L937.3,607.4L956.2,607.1L958.6,607.1L961,609.2L958.6,611.5L939.7,611.8L937.3,611.8L936.3,610.8ZM969.4,609.1L971.8,606.8L999.6,606.4L1002,606.4L1004.4,608.6L1002,610.8L974.2,611.2L971.8,611.2ZM1012.8,608.4L1015.2,606.2L1035.8,605.9L1038.2,605.9L1039.2,606.9L1039.2,609.3L1038.2,610.3L1017.6,610.6L1015.2,610.6ZM1034.8,606.9L1035.8,605.9L1043,605.8L1045.4,605.8L1047.8,608L1045.4,610.2L1038.2,610.3L1035.8,610.3L1034.8,609.3ZM1056.3,607.9L1058.7,605.6L1068.6,605.5L1071,605.5L1072,606.5L1072,608.9L1071,609.9L1061.1,610L1058.7,610ZM1067.6,606.5L1068.6,605.5L1086.5,605.3L1088.9,605.3L1091.3,607.4L1088.9,609.7L1071,609.9L1068.6,609.9L1067.6,608.9ZM1099.7,607.3L1099.9,606.1L1100.9,605.1L1101.5,605.1L1103.9,605.1L1104.9,606.1L1104.9,608.5L1103.9,609.5L1103.3,609.5L1100.9,609.5L1099.9,608.5ZM1100.5,606.1L1101.5,605.1L1129.9,604.8L1132.3,604.8L1134.7,607L1132.3,609.2L1103.9,609.5L1101.5,609.5L1100.5,608.5ZM1143.1,606.9L1145.5,604.6L1167.2,604.4L1169.6,604.4L1170.6,605.4L1170.6,607.8L1169.6,608.8L1147.9,609L1145.5,609ZM1166.2,605.4L1167.2,604.4L1173.3,604.4L1175.7,604.4L1178.1,606.5L1175.7,608.8L1169.6,608.8L1167.2,608.8L1166.2,607.8ZM1186.6,606.5L1189,604.2L1200,604.1L1202.4,604.1L1203.4,605.1L1203.4,607.5L1202.4,608.5L1191.4,608.6L1189,608.6ZM1199,605.1L1200,604.1L1216.8,604L1219.2,604L1221.6,606.2L1219.2,608.4L1202.4,608.5L1200,608.5L1199,607.5ZM1230,606.1L1230.7,604.9L1231.7,603.9L1232.8,603.8L1235.2,603.8L1236.2,604.8L1236.2,607.2L1235.2,608.2L1234.1,608.3L1231.7,608.3L1230.7,607.3ZM1231.8,604.8L1232.8,603.8L1260.2,603.6L1262.6,603.6L1265,605.8L1262.6,608L1235.2,608.2L1232.8,608.2L1231.8,607.2ZM1273.4,605.7L1275.8,603.5L1298.5,603.3L1300.9,603.3L1301.9,604.3L1301.9,606.7L1300.9,607.7L1278.2,607.9L1275.8,607.9ZM1297.5,604.3L1298.5,603.3L1303.6,603.3L1306,603.3L1308.4,605.5L1306,607.7L1300.9,607.7L1298.5,607.7L1297.5,606.7ZM1316.8,605.4L1319.2,603.2L1331.4,603.1L1333.8,603.1L1334.8,604.1L1334.8,606.5L1333.8,607.5L1321.6,607.6L1319.2,607.6ZM1330.4,604.1L1331.4,603.1L1347,603L1349.4,603L1351.8,605.2L1349.4,607.4L1333.8,607.5L1331.4,607.5L1330.4,606.5ZM1360.3,605.1L1361.5,603.9L1362.5,602.9L1364.2,602.9L1366.6,602.9L1367.6,603.9L1367.6,606.3L1366.6,607.3L1364.9,607.3L1362.5,607.3ZM1363.2,603.9L1364.2,602.9L1390.5,602.7L1392.9,602.7L1395.3,604.9L1392.9,607.1L1366.6,607.3L1364.2,607.3L1363.2,606.3ZM1403.7,604.8L1406.1,602.6L1429.9,602.5L1432.3,602.5L1433.3,603.5L1433.3,605.9L1432.3,606.9L1408.5,607L1406.1,607ZM1428.9,603.5L1429.9,602.5L1433.9,602.5L1436.3,602.5L1438.7,604.6L1436.3,606.9L1432.3,606.9L1429.9,606.9L1428.9,605.9ZM1447.1,604.6L1449.5,602.4L1462.7,602.3L1465.1,602.3L1466.1,603.3L1466.1,605.7L1465.1,606.7L1451.9,606.8L1449.5,606.8ZM1461.7,603.3L1462.7,602.3L1477.3,602.2L1479.7,602.2L1482.1,604.4L1479.7,606.6L1465.1,606.7L1462.7,606.7L1461.7,605.7ZM1490.6,604.4L1493,602.1L1495.6,602.1L1498,602.1L1499,603.1L1499,605.5L1498,606.5L1495.4,606.5L1493,606.5ZM1494.6,603.1L1495.6,602.1L1520.8,602L1523.2,602L1525.6,604.2L1523.2,606.4L1498,606.5L1495.6,606.5L1494.6,605.5ZM1534,604.1L1536.4,601.9L1561.2,601.8L1563.6,601.8L1564.6,602.8L1564.6,605.2L1563.6,606.2L1538.8,606.3L1536.4,606.3ZM1560.2,602.8L1561.2,601.8L1564.2,601.8L1566.6,601.8L1569,604L1566.6,606.2L1563.6,606.2L1561.2,606.2L1560.2,605.2ZM1577.4,603.9L1579.8,601.7L1594.1,601.7L1596.5,601.7L1597.5,602.7L1597.5,605.1L1596.5,606.1L1582.2,606.1L1579.8,606.1ZM1593.1,602.7L1594.1,601.7L1607.6,601.6L1610,601.6L1612.4,603.8L1610,606L1596.5,606.1L1594.1,606.1L1593.1,605.1ZM1620.9,603.7L1623.3,601.5L1626.9,601.5L1629.3,601.5L1630.3,602.5L1630.3,604.9L1629.3,605.9L1625.7,605.9L1623.3,605.9ZM1625.9,602.5L1626.9,601.5L1651.1,601.4L1653.5,601.4L1655.9,603.6L1653.5,605.8L1629.3,605.9L1626.9,605.9L1625.9,604.9ZM1664.3,603.6L1666.7,601.3L1692.6,601.2L1695,601.2L1696,602.2L1696,604.6L1695,605.6L1669.1,605.7L1666.7,605.7ZM1691.6,602.2L1692.6,601.2L1694.5,601.2L1696.9,601.2L1699.3,603.4L1696.9,605.6L1695,605.6L1692.6,605.6L1691.6,604.6ZM1707.7,603.4L1710.1,601.2L1725.4,601.1L1727.8,601.1L1728.8,602.1L1728.8,604.5L1727.8,605.5L1712.5,605.6L1710.1,605.6ZM1724.4,602.1L1725.4,601.1L1737.9,601.1L1740.3,601.1L1742.7,603.3L1740.3,605.5L1727.8,605.5L1725.4,605.5L1724.4,604.5ZM1751.1,603.2L1753.5,601L1758.3,601L1760.7,601L1761.7,602L1761.7,604.4L1760.7,605.4L1755.9,605.4L1753.5,605.4ZM1757.3,602L1758.3,601L1781.3,600.9L1783.7,600.9L1786.1,603.1L1783.7,605.3L1760.7,605.4L1758.3,605.4L1757.3,604.4ZM1794.6,603.1L1797,600.9L1824,600.8L1826.4,600.8L1827.4,601.8L1827.4,604.2L1826.4,605.2L1799.4,605.3L1797,605.3ZM1823,601.8L1824,600.8L1825.3,600.8L1827.7,600.8L1828.7,601.8L1829.6,603L1828.7,604.2L1827.7,605.2L1826.4,605.2L1824,605.2L1823,604.2ZM1838,602.9L1840.4,600.7L1855.2,600.7L1857.6,600.7L1860,602.9L1857.6,605.1L1842.8,605.1L1840.4,605.1Z"/>
<path d="M279.9,1198.3L312.3,1077.9L313.3,1076.9L315.7,1076.9L316.7,1077.9L316.7,1080.3L284.3,1200.7L283.3,1201.7L281.2,1202.9L279.9,1200.7ZM312.3,1077.9L345.2,994.4L346.2,993.4L348.6,993.4L349.6,994.4L349.6,996.8L316.7,1080.3L315.7,1081.3L313.3,1081.3L312.3,1080.3ZM345.2,994.4L378,937.2L379,936.2L381.4,936.2L382.4,937.2L382.4,939.6L349.6,996.8L348.6,997.8L346.2,997.8L345.2,996.8ZM378,937.2L410.8,898.1L411.8,897.1L414.2,897.1L415.2,898.1L415.2,900.5L382.4,939.6L381.4,940.6L379,940.6L378,939.6ZM410.8,898.1L411.8,897.1L444.7,870.4L447.1,870.4L448.1,871.4L448.1,873.8L447.1,874.8L414.2,901.5L411.8,901.5L410.8,900.5ZM443.7,871.4L444.7,870.4L477.5,852L479.9,852L480.9,853L480.9,855.4L479.9,856.4L447.1,874.8L444.7,874.8L443.7,873.8ZM476.5,853L477.5,852L510.4,839.5L512.8,839.5L513.8,840.5L513.8,842.9L512.8,843.9L479.9,856.4L477.5,856.4L476.5,855.4ZM509.4,840.5L510.4,839.5L543.2,830.9L545.6,830.9L546.6,831.9L546.6,834.3L545.6,835.3L512.8,843.9L510.4,843.9L509.4,842.9ZM542.2,831.9L543.2,830.9L576,825L578.4,825L579.4,826L579.4,828.4L578.4,829.4L545.6,835.3L543.2,835.3L542.2,834.3ZM575,826L576,825L608.9,821L611.3,821L612.3,822L612.3,824.4L611.3,825.4L578.4,829.4L576,829.4L575,828.4ZM607.9,822L608.9,821L641.7,818.2L644.1,818.2L645.1,819.2L645.1,821.6L644.1,822.6L611.3,825.4L608.9,825.4L607.9,824.4ZM640.7,819.2L641.7,818.2L674.6,816.3L677,816.3L678,817.3L678,819.7L677,820.7L644.1,822.6L641.7,822.6L640.7,821.6ZM673.6,817.3L674.6,816.3L707.4,815.1L709.8,815.1L710.8,816.1L710.8,818.5L709.8,819.5L677,820.7L674.6,820.7L673.6,819.7ZM706.4,816.1L707.4,815.1L740.2,814.2L742.6,814.2L743.6,815.2L743.6,817.6L742.6,818.6L709.8,819.5L707.4,819.5L706.4,818.5ZM739.2,815.2L740.2,814.2L773.1,813.6L775.5,813.6L776.5,814.6L776.5,817L775.5,818L742.6,818.6L740.2,818.6L739.2,817.6ZM772.1,814.6L773.1,813.6L805.9,813.2L808.3,813.2L809.3,814.2L809.3,816.6L808.3,817.6L775.5,818L773.1,818L772.1,817ZM804.9,814.2L805.9,813.2L838.8,812.9L841.2,812.9L842.2,813.9L842.2,816.3L841.2,817.3L808.3,817.6L805.9,817.6L804.9,816.6ZM837.8,813.9L838.8,812.9L871.6,812.7L874,812.7L875,813.7L875,816.1L874,817.1L841.2,817.3L838.8,817.3L837.8,816.3ZM870.6,813.7L871.6,812.7L904.4,812.5L906.8,812.5L907.8,813.5L907.8,815.9L906.8,816.9L874,817.1L871.6,817.1L870.6,816.1ZM903.4,813.5L904.4,812.5L937.3,812.5L939.7,812.5L940.7,813.5L940.7,815.9L939.7,816.9L906.8,816.9L904.4,816.9L903.4,815.9ZM936.3,813.5L937.3,812.5L970.1,812.4L972.5,812.4L973.5,813.4L973.5,815.8L972.5,816.8L939.7,816.9L937.3,816.9L936.3,815.9ZM969.1,813.4L970.1,812.4L1003,812.3L1005.4,812.3L1006.4,813.3L1006.4,815.7L1005.4,816.7L972.5,816.8L970.1,816.8L969.1,815.8ZM1002,813.3L1003,812.3L1035.8,812.3L1038.2,812.3L1039.2,813.3L1039.2,815.7L1038.2,816.7L1005.4,816.7L1003,816.7L1002,815.7ZM1034.8,813.3L1035.8,812.3L1068.6,812.3L1071,812.3L1072,813.3L1072,815.7L1071,816.7L1038.2,816.7L1035.8,816.7L1034.8,815.7ZM1067.6,813.3L1068.6,812.3L1101.5,812.3L1103.9,812.3L1104.9,813.3L1104.9,815.7L1103.9,816.7L1071,816.7L1068.6,816.7L1067.6,815.7ZM1100.5,813.3L1101.5,812.3L1134.3,812.3L1136.7,812.3L1137.7,813.3L1137.7,815.7L1136.7,816.7L1103.9,816.7L1101.5,816.7L1100.5,815.7ZM1133.3,813.3L1134.3,812.3L1167.2,812.3L1169.6,812.3L1170.6,813.3L1170.6,815.7L1169.6,816.7L1136.7,816.7L1134.3,816.7L1133.3,815.7ZM1166.2,813.3L1167.2,812.3L1200,812.3L1202.4,812.3L1203.4,813.3L1203.4,815.7L1202.4,816.7L1169.6,816.7L1167.2,816.7L1166.2,815.7ZM1199,813.3L1200,812.3L1232.8,812.3L1235.2,812.3L1236.2,813.3L1236.2,815.7L1235.2,816.7L1202.4,816.7L1200,816.7L1199,815.7ZM1231.8,813.3L1232.8,812.3L1265.7,812.3L1268.1,812.3L1269.1,813.3L1269.1,815.7L1268.1,816.7L1235.2,816.7L1232.8,816.7L1231.8,815.7ZM1264.7,813.3L1265.7,812.3L1298.5,812.3L1300.9,812.3L1301.9,813.3L1301.9,815.7L1300.9,816.7L1268.1,816.7L1265.7,816.7L1264.7,815.7ZM1297.5,813.3L1298.5,812.3L1331.4,812.3L1333.8,812.3L1334.8,813.3L1334.8,815.7L1333.8,816.7L1300.9,816.7L1298.5,816.7L1297.5,815.7ZM1330.4,813.3L1331.4,812.3L1364.2,812.3L1366.6,812.3L1367.6,813.3L1367.6,815.7L1366.6,816.7L1333.8,816.7L1331.4,816.7L1330.4,815.7ZM1363.2,813.3L1364.2,812.3L1399.4,812.3L1400.4,813.3L1400.4,815.7L1399.4,816.7L1364.2,816.7L1363.2,815.7ZM1396,813.3L1397,812.3L1432.3,812.3L1433.3,813.3L1433.3,815.7L1432.3,816.7L1397,816.7L1396,815.7ZM1428.9,813.3L1429.9,812.3L1462.7,812.3L1465.1,812.3L1466.1,813.3L1466.1,815.7L1465.1,816.7L1432.3,816.7L1429.9,816.7L1428.9,815.7ZM1461.7,813.3L1462.7,812.3L1498,812.3L1499,813.3L1499,815.7L1498,816.7L1462.7,816.7L1461.7,815.7ZM1494.6,813.3L1495.6,812.3L1530.8,812.3L1531.8,813.3L1531.8,815.7L1530.8,816.7L1495.6,816.7L1494.6,815.7ZM1527.4,813.3L1528.4,812.3L1563.6,812.3L1564.6,813.3L1564.6,815.7L1563.6,816.7L1528.4,816.7L1527.4,815.7ZM1560.2,813.3L1561.2,812.3L1596.5,812.3L1597.5,813.3L1597.5,815.7L1596.5,816.7L1561.2,816.7L1560.2,815.7ZM1593.1,813.3L1594.1,812.3L1629.3,812.3L1630.3,813.3L1630.3,815.7L1629.3,816.7L1594.1,816.7L1593.1,815.7ZM1625.9,813.3L1626.9,812.3L1662.2,812.3L1663.2,813.3L1663.2,815.7L1662.2,816.7L1626.9,816.7L1625.9,815.7ZM1658.8,813.3L1659.8,812.3L1695,812.3L1696,813.3L1696,815.7L1695,816.7L1659.8,816.7L1658.8,815.7ZM1691.6,813.3L1692.6,812.3L1727.8,812.3L1728.8,813.3L1728.8,815.7L1727.8,816.7L1692.6,816.7L1691.6,815.7ZM1724.4,813.3L1725.4,812.3L1760.7,812.3L1761.7,813.3L1761.7,815.7L1760.7,816.7L1725.4,816.7L1724.4,815.7ZM1757.3,813.3L1758.3,812.3L1793.5,812.3L1794.5,813.3L1794.5,815.7L1793.5,816.7L1758.3,816.7L1757.3,815.7ZM1790.1,813.3L1791.1,812.3L1826.4,812.3L1827.4,813.3L1827.4,815.7L1826.4,816.7L1791.1,816.7L1790.1,815.7ZM1823,813.3L1824,812.3L1857.6,812.3L1860,814.5L1857.6,816.7L1824,816.7L1823,815.7Z"/>
<path d="M280,1197.3L286.2,1169.5L287.2,1168.5L289.2,1167.1L290.6,1169.5L290.6,1171.9L284.4,1199.7L283.4,1200.7L281.4,1202L280,1199.7ZM289.7,1153.9L295.9,1126L296.9,1125L298.8,1123.7L300.3,1126L300.3,1128.4L294.1,1156.3L293.1,1157.3L291.1,1158.6L289.7,1156.3ZM299.3,1110.5L305.5,1082.6L306.5,1081.6L308.5,1080.3L309.9,1082.6L309.9,1085L303.7,1112.9L302.7,1113.9L300.7,1115.2L299.3,1112.9ZM308.9,1067L312.3,1051.8L313.3,1050.8L315.7,1050.8L316.7,1051.8L316.7,1054.2L313.3,1069.4L312.3,1070.4L310.4,1071.8L308.9,1069.4ZM312.3,1051.8L318.2,1039.1L319.2,1038.1L321.9,1037L322.6,1039.1L322.6,1041.5L316.7,1054.2L315.7,1055.2L313.3,1055.2L312.3,1054.2ZM325.2,1023.7L338.1,995.6L339.1,994.6L341.8,993.6L342.5,995.6L342.5,998L329.6,1026.1L328.6,1027.1L325.9,1028.2L325.2,1026.1ZM344.8,981L345.2,980.1L346.2,979.1L348.6,979.1L349.6,980.1L349.6,982.5L349.2,983.4L348.2,984.4L345.8,984.8L344.8,983.4ZM345.2,980.1L367,952L368,951L371.4,950.4L371.4,954.4L349.6,982.5L348.6,983.5L346.2,983.5L345.2,982.5ZM377.8,938.1L378,937.8L379,936.8L381.4,936.8L382.4,937.8L382.4,940.2L382.2,940.5L381.2,941.5L378.8,941.5L377.8,940.5ZM378,937.8L379,936.8L408.3,911.9L412.2,911.8L411.7,915.3L410.7,916.3L381.4,941.2L379,941.2L378,940.2ZM421.4,906L422.3,903L423.3,902L444.7,889.1L447.1,889.1L448.1,890.1L448.1,892.5L447.1,893.5L425.7,906.4L423.3,906.4ZM443.7,890.1L444.7,889.1L451.5,886L453.9,886L456,886.8L454.9,889.4L453.9,890.4L447.1,893.5L444.7,893.5L443.7,892.5ZM464.7,882.8L465.8,880.1L466.8,879.1L477.5,874.3L479.9,874.3L480.9,875.3L480.9,877.7L479.9,878.7L469.2,883.5L466.8,883.5ZM476.5,875.3L477.5,874.3L494.9,868.3L497.3,868.3L499.5,869.3L498.3,871.7L497.3,872.7L479.9,878.7L477.5,878.7L476.5,877.7ZM508.1,866.3L508.5,864.2L509.5,863.2L510.4,862.9L512.8,862.9L513.8,863.9L513.8,866.3L512.8,867.3L511.9,867.6L509.5,867.6ZM509.4,863.9L510.4,862.9L538.3,855.1L540.7,855.1L542.9,856.4L541.7,858.5L540.7,859.5L512.8,867.3L510.4,867.3L509.4,866.3ZM551.5,854.3L552.8,852.3L553.8,851.3L576,846.3L578.4,846.3L579.4,847.3L579.4,849.7L578.4,850.7L556.2,855.7L553.8,855.7ZM575,847.3L576,846.3L581.7,845.2L584.1,845.2L586.4,846.8L585.1,848.6L584.1,849.6L578.4,850.7L576,850.7L575,849.7ZM594.9,845.2L596.2,843.3L597.2,842.3L608.9,840.1L611.3,840.1L612.3,841.1L612.3,843.5L611.3,844.5L599.6,846.7L597.2,846.7ZM607.9,841.1L608.9,840.1L625.1,837.5L627.5,837.5L629.8,839.1L628.5,840.9L627.5,841.9L611.3,844.5L608.9,844.5L607.9,843.5ZM638.3,837.8L639.3,836.1L640.3,835.1L641.7,834.9L644.1,834.9L645.1,835.9L645.1,838.3L644.1,839.3L642.7,839.5L640.3,839.5ZM640.7,835.9L641.7,834.9L668.5,831.2L670.9,831.2L673.3,832.9L671.9,834.6L670.9,835.6L644.1,839.3L641.7,839.3L640.7,838.3ZM681.7,831.9L683.1,830.3L684.1,829.3L707.4,826.5L709.8,826.5L710.8,827.5L710.8,829.9L709.8,830.9L686.5,833.7L684.1,833.7ZM706.4,827.5L707.4,826.5L711.9,826L714.3,826L716.7,827.9L715.3,829.4L714.3,830.4L709.8,830.9L707.4,830.9L706.4,829.9ZM725.2,827L726.5,825.4L727.5,824.4L740.2,823.1L742.6,823.1L743.6,824.1L743.6,826.5L742.6,827.5L729.9,828.8L727.5,828.8ZM739.2,824.1L740.2,823.1L755.4,821.7L757.8,821.7L760.1,823.6L758.8,825.1L757.8,826.1L742.6,827.5L740.2,827.5L739.2,826.5ZM768.6,822.8L770,821.3L771,820.3L773.1,820.1L775.5,820.1L776.5,821.1L776.5,823.5L775.5,824.5L773.4,824.7L771,824.7ZM772.1,821.1L773.1,820.1L798.8,818L801.2,818L803.6,820L802.2,821.4L801.2,822.4L775.5,824.5L773.1,824.5L772.1,823.5ZM812,819.3L813.4,817.9L814.4,816.9L838.8,815.1L841.2,815.1L842.2,816.1L842.2,818.5L841.2,819.5L816.8,821.3L814.4,821.3ZM837.8,816.1L838.8,815.1L842.2,814.9L844.6,814.9L847,816.8L845.6,818.3L844.6,819.3L841.2,819.5L838.8,819.5L837.8,818.5ZM855.4,816.3L856.8,814.9L857.8,813.9L871.6,813L874,813L875,814L875,816.4L874,817.4L860.2,818.3L857.8,818.3ZM870.6,814L871.6,813L885.6,812.1L888,812.1L890.4,814.1L889,815.5L888,816.5L874,817.4L871.6,817.4L870.6,816.4ZM898.9,813.6L900.3,812.2L901.3,811.2L904.4,811L906.8,811L907.8,812L907.8,814.4L906.8,815.4L903.7,815.6L901.3,815.6ZM903.4,812L904.4,811L929.1,809.7L931.5,809.7L933.9,811.7L931.5,814.1L906.8,815.4L904.4,815.4L903.4,814.4ZM942.3,811.3L944.7,808.9L970.1,807.7L972.5,807.7L973.5,808.7L973.5,811.1L972.5,812.1L947.1,813.3L944.7,813.3ZM969.1,808.7L970.1,807.7L972.5,807.6L974.9,807.6L977.3,809.6L974.9,812L972.5,812.1L970.1,812.1L969.1,811.1ZM985.7,809.2L988.1,806.9L1003,806.2L1005.4,806.2L1006.4,807.2L1006.4,809.6L1005.4,810.6L990.5,811.3L988.1,811.3ZM1002,807.2L1003,806.2L1015.9,805.7L1018.3,805.7L1020.7,807.7L1018.3,810.1L1005.4,810.6L1003,810.6L1002,809.6ZM1029.2,807.4L1031.6,805L1035.8,804.9L1038.2,804.9L1039.2,805.9L1039.2,808.3L1038.2,809.3L1034,809.4L1031.6,809.4ZM1034.8,805.9L1035.8,804.9L1059.4,804L1061.8,804L1064.2,806L1061.8,808.4L1038.2,809.3L1035.8,809.3L1034.8,808.3ZM1072.6,805.7L1075,803.4L1101.5,802.5L1103.9,802.5L1104.9,803.5L1104.9,805.9L1103.9,806.9L1077.4,807.8L1075,807.8ZM1100.5,803.5L1101.5,802.5L1103.1,802.4L1105.5,802.4L1107.6,804.5L1106.5,805.8L1105.5,806.8L1103.9,806.9L1101.5,806.9L1100.5,805.9ZM1116,804.2L1118.4,801.9L1134.3,801.4L1136.7,801.4L1137.7,802.4L1137.7,804.8L1136.7,805.8L1120.8,806.3L1118.4,806.3ZM1133.3,802.4L1134.3,801.4L1146.2,801L1148.6,801L1151,803.1L1148.6,805.4L1136.7,805.8L1134.3,805.8L1133.3,804.8ZM1159.5,802.9L1161.8,800.6L1167.2,800.4L1169.6,800.4L1170.6,801.4L1170.6,803.8L1169.6,804.8L1164.2,805L1161.8,805ZM1166.2,801.4L1167.2,800.4L1189.7,799.8L1192.1,799.8L1194.4,801.9L1192.1,804.2L1169.6,804.8L1167.2,804.8L1166.2,803.8ZM1202.9,801.6L1205.3,799.3L1232.8,798.6L1235.2,798.6L1236.2,799.6L1236.2,802L1235.2,803L1207.7,803.7L1205.3,803.7ZM1231.8,799.6L1232.8,798.6L1233.9,798.6L1236.3,798.6L1237.3,799.6L1237.9,800.7L1237.3,802L1236.3,803L1235.2,803L1232.8,803L1231.8,802ZM1246.3,800.5L1248.7,798.2L1265.7,797.8L1268.1,797.8L1269.1,798.8L1269.1,801.2L1268.1,802.2L1251.1,802.6L1248.7,802.6ZM1264.7,798.8L1265.7,797.8L1276.5,797.5L1278.9,797.5L1281.3,799.7L1278.9,801.9L1268.1,802.2L1265.7,802.2L1264.7,801.2ZM1289.7,799.5L1292.1,797.2L1298.5,797L1300.9,797L1301.9,798L1301.9,800.4L1300.9,801.4L1294.5,801.6L1292.1,801.6ZM1297.5,798L1298.5,797L1319.9,796.6L1322.3,796.6L1324.7,798.7L1322.3,801L1300.9,801.4L1298.5,801.4L1297.5,800.4ZM1333.2,798.5L1335.6,796.2L1364.2,795.6L1366.6,795.6L1367.6,796.6L1367.6,799L1366.6,800L1338,800.6L1335.6,800.6ZM1363.2,796.6L1364.2,795.6L1364.6,795.6L1367,795.6L1368,796.6L1368.2,797.8L1368,799L1367,800L1366.6,800L1364.2,800L1363.2,799ZM1376.6,797.6L1379,795.3L1397,795L1399.4,795L1400.4,796L1400.4,798.4L1399.4,799.4L1381.4,799.7L1379,799.7ZM1396,796L1397,795L1406.8,794.8L1409.2,794.8L1411.6,797L1409.2,799.2L1399.4,799.4L1397,799.4L1396,798.4ZM1420,796.8L1422.4,794.5L1429.9,794.4L1432.3,794.4L1433.3,795.4L1433.3,797.8L1432.3,798.8L1424.8,798.9L1422.4,798.9ZM1428.9,795.4L1429.9,794.4L1450.2,794L1452.6,794L1455,796.2L1452.6,798.4L1432.3,798.8L1429.9,798.8L1428.9,797.8ZM1463.5,796L1465.9,793.8L1493.7,793.3L1496.1,793.3L1498.5,795.4L1496.1,797.7L1468.3,798.2L1465.9,798.2ZM1506.9,795.3L1509.3,793.1L1528.4,792.8L1530.8,792.8L1531.8,793.8L1531.8,796.2L1530.8,797.2L1511.7,797.5L1509.3,797.5ZM1527.4,793.8L1528.4,792.8L1537.1,792.6L1539.5,792.6L1541.9,794.8L1539.5,797L1530.8,797.2L1528.4,797.2L1527.4,796.2ZM1550.3,794.6L1552.7,792.4L1561.2,792.3L1563.6,792.3L1564.6,793.3L1564.6,795.7L1563.6,796.7L1555.1,796.8L1552.7,796.8ZM1560.2,793.3L1561.2,792.3L1580.5,792L1582.9,792L1585.3,794.1L1582.9,796.4L1563.6,796.7L1561.2,796.7L1560.2,795.7ZM1593.8,794L1596.2,791.8L1624,791.4L1626.3,791.4L1628.8,793.5L1626.3,795.8L1598.5,796.2L1596.2,796.2ZM1637.2,793.4L1639.6,791.2L1659.8,790.9L1662.2,790.9L1663.2,791.9L1663.2,794.3L1662.2,795.3L1642,795.6L1639.6,795.6ZM1658.8,791.9L1659.8,790.9L1667.4,790.8L1669.8,790.8L1672.2,793L1669.8,795.2L1662.2,795.3L1659.8,795.3L1658.8,794.3ZM1680.6,792.9L1683,790.6L1692.6,790.5L1695,790.5L1696,791.5L1696,793.9L1695,794.9L1685.4,795L1683,795ZM1691.6,791.5L1692.6,790.5L1710.8,790.3L1713.2,790.3L1715.6,792.5L1713.2,794.7L1695,794.9L1692.6,794.9L1691.6,793.9ZM1724,792.4L1724.1,791.1L1725.1,790.1L1725.4,790.1L1727.8,790.1L1728.8,791.1L1728.8,793.5L1727.8,794.5L1727.5,794.5L1725.1,794.5L1724.1,793.5ZM1724.4,791.1L1725.4,790.1L1754.2,789.8L1756.6,789.8L1759,792L1756.6,794.2L1727.8,794.5L1725.4,794.5L1724.4,793.5ZM1767.5,791.9L1769.9,789.6L1791.1,789.4L1793.5,789.4L1794.5,790.4L1794.5,792.8L1793.5,793.8L1772.3,794L1769.9,794ZM1790.1,790.4L1791.1,789.4L1797.7,789.3L1800.1,789.3L1802.5,791.5L1800.1,793.7L1793.5,793.8L1791.1,793.8L1790.1,792.8ZM1810.9,791.4L1813.3,789.2L1824,789.1L1826.4,789.1L1827.4,790.1L1827.4,792.5L1826.4,793.5L1815.7,793.6L1813.3,793.6ZM1823,790.1L1824,789.1L1841.1,788.9L1843.5,788.9L1845.9,791.1L1843.5,793.3L1826.4,793.5L1824,793.5L1823,792.5ZM1854.3,791L1854.9,789.7L1855.9,788.7L1856,788.7L1858.4,788.7L1859.4,789.7L1860,790.9L1859.4,792.1L1858.4,793.1L1858.3,793.1L1855.9,793.1L1854.9,792.1Z"/>
<path d="M280.2,1198.4L312.3,1135.5L313.3,1134.5L315.7,1134.5L316.7,1135.5L316.7,1137.9L284.6,1200.8L283.6,1201.8L280.8,1202.8L280.2,1200.8ZM312.3,1135.5L345.2,1088.9L346.2,1087.9L348.6,1087.9L349.6,1088.9L349.6,1091.3L316.7,1137.9L315.7,1138.9L313.3,1138.9L312.3,1137.9ZM345.2,1088.9L378,1055.2L379,1054.2L381.4,1054.2L382.4,1055.2L382.4,1057.6L349.6,1091.3L348.6,1092.3L346.2,1092.3L345.2,1091.3ZM378,1055.2L379,1054.2L411.8,1029.8L414.2,1029.8L415.2,1030.8L415.2,1033.2L414.2,1034.2L381.4,1058.6L379,1058.6L378,1057.6ZM410.8,1030.8L411.8,1029.8L444.7,1012.1L447.1,1012.1L448.1,1013.1L448.1,1015.5L447.1,1016.5L414.2,1034.2L411.8,1034.2L410.8,1033.2ZM443.7,1013.1L444.7,1012.1L477.5,999.3L479.9,999.3L480.9,1000.3L480.9,1002.7L479.9,1003.7L447.1,1016.5L444.7,1016.5L443.7,1015.5ZM476.5,1000.3L477.5,999.3L510.4,990L512.8,990L513.8,991L513.8,993.4L512.8,994.4L479.9,1003.7L477.5,1003.7L476.5,1002.7ZM509.4,991L510.4,990L543.2,983.3L545.6,983.3L546.6,984.3L546.6,986.7L545.6,987.7L512.8,994.4L510.4,994.4L509.4,993.4ZM542.2,984.3L543.2,983.3L576,978.5L578.4,978.5L579.4,979.5L579.4,981.9L578.4,982.9L545.6,987.7L543.2,987.7L542.2,986.7ZM575,979.5L576,978.5L608.9,975L611.3,975L612.3,976L612.3,978.4L611.3,979.4L578.4,982.9L576,982.9L575,981.9ZM607.9,976L608.9,975L641.7,972.4L644.1,972.4L645.1,973.4L645.1,975.8L644.1,976.8L611.3,979.4L608.9,979.4L607.9,978.4ZM640.7,973.4L641.7,972.4L674.6,970.6L677,970.6L678,971.6L678,974L677,975L644.1,976.8L641.7,976.8L640.7,975.8ZM673.6,971.6L674.6,970.6L707.4,969.2L709.8,969.2L710.8,970.2L710.8,972.6L709.8,973.6L677,975L674.6,975L673.6,974ZM706.4,970.2L707.4,969.2L740.2,968.3L742.6,968.3L743.6,969.3L743.6,971.7L742.6,972.7L709.8,973.6L707.4,973.6L706.4,972.6ZM739.2,969.3L740.2,968.3L773.1,967.6L775.5,967.6L776.5,968.6L776.5,971L775.5,972L742.6,972.7L740.2,972.7L739.2,971.7ZM772.1,968.6L773.1,967.6L805.9,967.1L808.3,967.1L809.3,968.1L809.3,970.5L808.3,971.5L775.5,972L773.1,972L772.1,971ZM804.9,968.1L805.9,967.1L838.8,966.7L841.2,966.7L842.2,967.7L842.2,970.1L841.2,971.1L808.3,971.5L805.9,971.5L804.9,970.5ZM837.8,967.7L838.8,966.7L871.6,966.4L874,966.4L875,967.4L875,969.8L874,970.8L841.2,971.1L838.8,971.1L837.8,970.1ZM870.6,967.4L871.6,966.4L904.4,966.3L906.8,966.3L907.8,967.3L907.8,969.7L906.8,970.7L874,970.8L871.6,970.8L870.6,969.8ZM903.4,967.3L904.4,966.3L937.3,966.1L939.7,966.1L940.7,967.1L940.7,969.5L939.7,970.5L906.8,970.7L904.4,970.7L903.4,969.7ZM936.3,967.1L937.3,966.1L970.1,966L972.5,966L973.5,967L973.5,969.4L972.5,970.4L939.7,970.5L937.3,970.5L936.3,969.5ZM969.1,967L970.1,966L1003,965.9L1005.4,965.9L1006.4,966.9L1006.4,969.3L1005.4,970.3L972.5,970.4L970.1,970.4L969.1,969.4ZM1002,966.9L1003,965.9L1035.8,965.9L1038.2,965.9L1039.2,966.9L1039.2,969.3L1038.2,970.3L1005.4,970.3L1003,970.3L1002,969.3ZM1034.8,966.9L1035.8,965.9L1068.6,965.9L1071,965.9L1072,966.9L1072,969.2L1071,970.2L1038.2,970.3L1035.8,970.3L1034.8,969.3ZM1067.6,966.9L1068.6,965.9L1101.5,965.8L1103.9,965.8L1104.9,966.8L1104.9,969.2L1103.9,970.2L1071,970.2L1068.6,970.2L1067.6,969.2ZM1100.5,966.8L1101.5,965.8L1134.3,965.8L1136.7,965.8L1137.7,966.8L1137.7,969.2L1136.7,970.2L1103.9,970.2L1101.5,970.2L1100.5,969.2ZM1133.3,966.8L1134.3,965.8L1167.2,965.8L1169.6,965.8L1170.6,966.8L1170.6,969.2L1169.6,970.2L1136.7,970.2L1134.3,970.2L1133.3,969.2ZM1166.2,966.8L1167.2,965.8L1200,965.8L1202.4,965.8L1203.4,966.8L1203.4,969.2L1202.4,970.2L1169.6,970.2L1167.2,970.2L1166.2,969.2ZM1199,966.8L1200,965.8L1232.8,965.8L1235.2,965.8L1236.2,966.8L1236.2,969.2L1235.2,970.2L1202.4,970.2L1200,970.2L1199,969.2ZM1231.8,966.8L1232.8,965.8L1265.7,965.8L1268.1,965.8L1269.1,966.8L1269.1,969.2L1268.1,970.2L1235.2,970.2L1232.8,970.2L1231.8,969.2ZM1264.7,966.8L1265.7,965.8L1298.5,965.8L1300.9,965.8L1301.9,966.8L1301.9,969.2L1300.9,970.2L1268.1,970.2L1265.7,970.2L1264.7,969.2ZM1297.5,966.8L1298.5,965.8L1331.4,965.8L1333.8,965.8L1334.8,966.8L1334.8,969.2L1333.8,970.2L1300.9,970.2L1298.5,970.2L1297.5,969.2ZM1330.4,966.8L1331.4,965.8L1364.2,965.8L1366.6,965.8L1367.6,966.8L1367.6,969.2L1366.6,970.2L1333.8,970.2L1331.4,970.2L1330.4,969.2ZM1363.2,966.8L1364.2,965.8L1397,965.8L1399.4,965.8L1400.4,966.8L1400.4,969.2L1399.4,970.2L1366.6,970.2L1364.2,970.2L1363.2,969.2ZM1396,966.8L1397,965.8L1429.9,965.8L1432.3,965.8L1433.3,966.8L1433.3,969.2L1432.3,970.2L1399.4,970.2L1397,970.2L1396,969.2ZM1428.9,966.8L1429.9,965.8L1462.7,965.8L1465.1,965.8L1466.1,966.8L1466.1,969.2L1465.1,970.2L1432.3,970.2L1429.9,970.2L1428.9,969.2ZM1461.7,966.8L1462.7,965.8L1498,965.8L1499,966.8L1499,969.2L1498,970.2L1462.7,970.2L1461.7,969.2ZM1494.6,966.8L1495.6,965.8L1528.4,965.8L1530.8,965.8L1531.8,966.8L1531.8,969.2L1530.8,970.2L1498,970.2L1495.6,970.2L1494.6,969.2ZM1527.4,966.8L1528.4,965.8L1563.6,965.8L1564.6,966.8L1564.6,969.2L1563.6,970.2L1528.4,970.2L1527.4,969.2ZM1560.2,966.8L1561.2,965.8L1596.5,965.8L1597.5,966.8L1597.5,969.2L1596.5,970.2L1561.2,970.2L1560.2,969.2ZM1593.1,966.8L1594.1,965.8L1629.3,965.8L1630.3,966.8L1630.3,969.2L1629.3,970.2L1594.1,970.2L1593.1,969.2ZM1625.9,966.8L1626.9,965.8L1659.8,965.8L1662.2,965.8L1663.2,966.8L1663.2,969.1L1662.2,970.1L1629.3,970.2L1626.9,970.2L1625.9,969.2ZM1658.8,966.8L1659.8,965.8L1695,965.8L1696,966.8L1696,969.1L1695,970.1L1659.8,970.1L1658.8,969.1ZM1691.6,966.8L1692.6,965.8L1727.8,965.8L1728.8,966.8L1728.8,969.1L1727.8,970.1L1692.6,970.1L1691.6,969.1ZM1724.4,966.8L1725.4,965.8L1760.7,965.8L1761.7,966.8L1761.7,969.1L1760.7,970.1L1725.4,970.1L1724.4,969.1ZM1757.3,966.8L1758.3,965.8L1793.5,965.8L1794.5,966.8L1794.5,969.1L1793.5,970.1L1758.3,970.1L1757.3,969.1ZM1790.1,966.8L1791.1,965.8L1826.4,965.8L1827.4,966.8L1827.4,969.1L1826.4,970.1L1791.1,970.1L1790.1,969.1ZM1823,966.8L1824,965.8L1857.6,965.8L1860,968L1857.6,970.1L1824,970.1L1823,969.1Z"/>
<path d="M280.1,1198.3L291.4,1171L292.4,1170L295,1168.9L295.8,1171L295.8,1173.4L284.5,1200.7L283.5,1201.7L280.9,1202.8L280.1,1200.7ZM297.8,1155.6L309.4,1127.6L310.4,1126.6L312.9,1125.5L313.8,1127.6L313.8,1130L302.2,1158L301.2,1159L298.6,1160.2L297.8,1158ZM318.6,1116.5L318.6,1112.4L340.8,1084L341.8,1083L345.2,1082.3L345.2,1086.4L323,1114.8L322,1115.8ZM353.9,1074.4L354.5,1070.9L355.5,1069.9L379,1051.3L381.4,1051.3L382.4,1052.3L382.4,1054.7L381.4,1055.7L357.9,1074.3ZM378,1052.3L379,1051.3L383.9,1048.7L386.3,1048.7L388.2,1049.2L387.3,1052.1L386.3,1053.1L381.4,1055.7L379,1055.7L378,1054.7ZM397.2,1044.3L398.1,1041.4L399.1,1040.4L411.8,1033.5L414.2,1033.5L415.2,1034.5L415.2,1037L414.2,1038L401.5,1044.8L399.1,1044.8ZM410.8,1034.5L411.8,1033.5L427.2,1027.5L429.6,1027.5L431.8,1028.4L430.6,1030.9L429.6,1031.9L414.2,1038L411.8,1038L410.8,1037ZM440.5,1025L441.6,1022.5L442.6,1021.5L444.7,1020.7L447.1,1020.7L448.1,1021.7L448.1,1024.1L447.1,1025.1L445,1025.9L442.6,1025.9ZM443.7,1021.7L444.7,1020.7L470.6,1013L473,1013L475.3,1014.2L474,1016.4L473,1017.4L447.1,1025.1L444.7,1025.1L443.7,1024.1ZM483.8,1012L485.1,1009.9L486.1,1008.9L510.4,1003.3L512.8,1003.3L513.8,1004.3L513.8,1006.7L512.8,1007.7L488.5,1013.3L486.1,1013.3ZM509.4,1004.3L510.4,1003.3L514,1002.6L516.4,1002.6L518.7,1004.2L517.4,1006L516.4,1007L512.8,1007.7L510.4,1007.7L509.4,1006.7ZM527.2,1002.6L528.6,1000.7L529.6,999.7L543.2,997.2L545.6,997.2L546.6,998.2L546.6,1000.6L545.6,1001.6L532,1004.1L529.6,1004.1ZM542.2,998.2L543.2,997.2L557.4,995L559.8,995L562.2,996.6L560.8,998.4L559.8,999.4L545.6,1001.6L543.2,1001.6L542.2,1000.6ZM570.7,995.3L572,993.6L573,992.6L576,992.1L578.4,992.1L579.4,993.1L579.4,995.5L578.4,996.5L575.4,997L573,997ZM575,993.1L576,992.1L600.8,988.9L603.2,988.9L605.6,990.6L604.2,992.3L603.2,993.3L578.4,996.5L576,996.5L575,995.5ZM614.1,989.6L615.5,988L616.5,987L641.7,984.3L644.1,984.3L645.1,985.3L645.1,987.7L644.1,988.7L618.9,991.4L616.5,991.4ZM640.7,985.3L641.7,984.3L644.3,984L646.7,984L649.1,985.9L647.7,987.4L646.7,988.4L644.1,988.7L641.7,988.7L640.7,987.7ZM657.5,985.1L658.9,983.6L659.9,982.6L674.6,981.2L677,981.2L678,982.2L678,984.6L677,985.6L662.3,987L659.9,987ZM673.6,982.2L674.6,981.2L687.7,980.1L690.1,980.1L692.5,982L691.1,983.5L690.1,984.5L677,985.6L674.6,985.6L673.6,984.6ZM700.9,981.3L702.3,979.8L703.3,978.8L707.4,978.5L709.8,978.5L710.8,979.5L710.8,981.9L709.8,982.9L705.7,983.2L703.3,983.2ZM706.4,979.5L707.4,978.5L731.1,976.8L733.5,976.8L735.9,978.7L734.5,980.2L733.5,981.2L709.8,982.9L707.4,982.9L706.4,981.9ZM744.4,978.1L745.8,976.7L746.8,975.7L773.1,974L775.5,974L776.5,975L776.5,977.5L775.5,978.5L749.1,980.1L746.8,980.1ZM772.1,975L773.1,974L774.8,974L777.2,974L779.4,976L778.2,977.4L777.2,978.4L775.5,978.5L773.1,978.5L772.1,977.5ZM787.8,975.5L789.2,974.1L790.2,973.1L805.9,972.2L808.3,972.2L809.3,973.2L809.3,975.6L808.3,976.6L792.6,977.5L790.2,977.5ZM804.9,973.2L805.9,972.2L818,971.6L820.4,971.6L822.8,973.6L820.4,976L808.3,976.6L805.9,976.6L804.9,975.6ZM831.2,973.2L833.6,970.8L838.8,970.5L841.2,970.5L842.2,971.5L842.2,973.9L841.2,974.9L836,975.2L833.6,975.2ZM837.8,971.5L838.8,970.5L861.4,969.5L863.8,969.5L866.2,971.5L863.8,973.9L841.2,974.9L838.8,974.9L837.8,973.9ZM874.6,971.2L877,968.8L904.4,967.7L906.8,967.7L907.8,968.7L907.8,971.1L906.8,972.1L879.4,973.2L877,973.2ZM903.4,968.7L904.4,967.7L905.5,967.6L907.9,967.6L908.9,968.6L909.6,969.7L908.9,971L907.9,972L906.8,972.1L904.4,972.1L903.4,971.1ZM918.1,969.4L920.5,967.1L937.3,966.4L939.7,966.4L940.7,967.4L940.7,969.8L939.7,970.8L922.9,971.5L920.5,971.5ZM936.3,967.4L937.3,966.4L948.3,966.1L950.7,966.1L953.1,968.1L950.7,970.5L939.7,970.8L937.3,970.8L936.3,969.8ZM961.5,967.9L963.9,965.5L970.1,965.3L972.5,965.3L973.5,966.3L973.5,968.7L972.5,969.7L966.3,969.9L963.9,969.9ZM969.1,966.3L970.1,965.3L991.7,964.6L994.1,964.6L996.5,966.7L994.1,969L972.5,969.7L970.1,969.7L969.1,968.7ZM1004.9,966.5L1007.3,964.2L1035.8,963.3L1038.2,963.3L1039.2,964.3L1039.2,966.7L1038.2,967.7L1009.7,968.6L1007.3,968.6ZM1034.8,964.3L1035.8,963.3L1036.3,963.3L1038.7,963.3L1039.7,964.3L1039.9,965.4L1039.7,966.7L1038.7,967.7L1038.2,967.7L1035.8,967.7L1034.8,966.7ZM1048.4,965.2L1050.8,962.9L1068.6,962.4L1071,962.4L1072,963.4L1072,965.8L1071,966.8L1053.2,967.3L1050.8,967.3ZM1067.6,963.4L1068.6,962.4L1078.6,962.2L1081,962.2L1083.4,964.3L1081,966.6L1071,966.8L1068.6,966.8L1067.6,965.8ZM1091.8,964.1L1094.2,961.8L1101.5,961.6L1103.9,961.6L1104.9,962.6L1104.9,965L1103.9,966L1096.6,966.2L1094.2,966.2ZM1100.5,962.6L1101.5,961.6L1122,961.2L1124.4,961.2L1126.8,963.3L1124.4,965.6L1103.9,966L1101.5,966L1100.5,965ZM1135.2,963.1L1137.6,960.8L1165.4,960.2L1167.8,960.2L1170.2,962.3L1167.8,964.6L1140,965.2L1137.6,965.2ZM1178.7,962.2L1181.1,959.9L1200,959.5L1202.4,959.5L1203.4,960.5L1203.4,962.9L1202.4,963.9L1183.5,964.3L1181.1,964.3ZM1199,960.5L1200,959.5L1208.9,959.3L1211.3,959.3L1213.7,961.5L1211.3,963.7L1202.4,963.9L1200,963.9L1199,962.9ZM1222.1,961.3L1224.5,959L1232.8,958.9L1235.2,958.9L1236.2,959.9L1236.2,962.3L1235.2,963.3L1226.9,963.4L1224.5,963.4ZM1231.8,959.9L1232.8,958.9L1252.3,958.5L1254.7,958.5L1257.1,960.7L1254.7,962.9L1235.2,963.3L1232.8,963.3L1231.8,962.3ZM1265.5,960.5L1267.9,958.3L1295.7,957.8L1298.1,957.8L1300.5,959.9L1298.1,962.2L1270.3,962.7L1267.9,962.7ZM1308.9,959.8L1311.3,957.6L1331.4,957.2L1333.8,957.2L1334.8,958.2L1334.8,960.6L1333.8,961.6L1313.7,962L1311.3,962ZM1330.4,958.2L1331.4,957.2L1339.1,957.1L1341.5,957.1L1343.9,959.3L1341.5,961.5L1333.8,961.6L1331.4,961.6L1330.4,960.6ZM1352.4,959.2L1354.8,956.9L1364.2,956.8L1366.6,956.8L1367.6,957.8L1367.6,960.2L1366.6,961.2L1357.2,961.3L1354.8,961.3ZM1363.2,957.8L1364.2,956.8L1382.6,956.5L1385,956.5L1387.4,958.7L1385,960.9L1366.6,961.2L1364.2,961.2L1363.2,960.2ZM1395.8,957.3L1396.8,956.3L1397,956.3L1399.4,956.3L1400.4,957.3L1400.4,959.7L1399.4,960.7L1399.2,960.7L1396.8,960.7L1395.8,959.7ZM1396,957.3L1397,956.3L1426,955.9L1428.4,955.9L1430.8,958.1L1428.4,960.3L1399.4,960.7L1397,960.7L1396,959.7ZM1439.2,958L1441.6,955.7L1462.7,955.5L1465.1,955.5L1466.1,956.5L1466.1,958.9L1465.1,959.9L1444,960.1L1441.6,960.1ZM1461.7,956.5L1462.7,955.5L1469.4,955.4L1471.8,955.4L1474.2,957.5L1471.8,959.8L1465.1,959.9L1462.7,959.9L1461.7,958.9ZM1482.7,957.4L1485.1,955.2L1495.6,955.1L1498,955.1L1499,956.1L1499,958.5L1498,959.5L1487.5,959.6L1485.1,959.6ZM1494.6,956.1L1495.6,955.1L1512.9,954.9L1515.3,954.9L1517.7,957L1515.3,959.3L1498,959.5L1495.6,959.5L1494.6,958.5ZM1526.1,956.9L1526.6,955.7L1527.6,954.7L1528.4,954.7L1530.8,954.7L1531.8,955.7L1531.8,958.1L1530.8,959.1L1530,959.1L1527.6,959.1L1526.6,958.1ZM1527.4,955.7L1528.4,954.7L1556.3,954.4L1558.7,954.4L1561.1,956.6L1558.7,958.8L1530.8,959.1L1528.4,959.1L1527.4,958.1ZM1569.5,956.5L1571.9,954.2L1594.1,954L1596.5,954L1597.5,955L1597.5,957.4L1596.5,958.4L1574.3,958.6L1571.9,958.6ZM1593.1,955L1594.1,954L1599.7,954L1602.1,954L1604.5,956.1L1602.1,958.4L1596.5,958.4L1594.1,958.4L1593.1,957.4ZM1613,956L1615.4,953.8L1626.9,953.7L1629.3,953.7L1630.3,954.7L1630.3,957.1L1629.3,958.1L1617.8,958.2L1615.4,958.2ZM1625.9,954.7L1626.9,953.7L1643.2,953.5L1645.6,953.5L1648,955.7L1645.6,957.9L1629.3,958.1L1626.9,958.1L1625.9,957.1ZM1656.4,955.6L1657.3,954.4L1658.3,953.4L1659.8,953.4L1662.2,953.4L1663.2,954.4L1663.2,956.8L1662.2,957.8L1660.7,957.8L1658.3,957.8L1657.3,956.8ZM1658.8,954.4L1659.8,953.4L1686.6,953.2L1689,953.2L1691.4,955.3L1689,957.6L1662.2,957.8L1659.8,957.8L1658.8,956.8ZM1699.8,955.3L1702.2,953L1725.4,952.8L1727.8,952.8L1728.8,953.8L1728.8,956.2L1727.8,957.2L1704.6,957.4L1702.2,957.4ZM1724.4,953.8L1725.4,952.8L1730,952.8L1732.4,952.8L1734.8,955L1732.4,957.2L1727.8,957.2L1725.4,957.2L1724.4,956.2ZM1743.2,954.9L1745.6,952.7L1758.3,952.6L1760.7,952.6L1761.7,953.6L1761.7,956L1760.7,957L1748,957.1L1745.6,957.1ZM1757.3,953.6L1758.3,952.6L1773.4,952.4L1775.8,952.4L1778.2,954.6L1775.8,956.8L1760.7,957L1758.3,957L1757.3,956ZM1786.7,954.5L1789.1,952.3L1791.1,952.3L1793.5,952.3L1794.5,953.3L1794.5,955.7L1793.5,956.7L1791.5,956.7L1789.1,956.7ZM1790.1,953.3L1791.1,952.3L1816.9,952.1L1819.3,952.1L1821.7,954.3L1819.3,956.5L1793.5,956.7L1791.1,956.7L1790.1,955.7ZM1830.1,954.2L1832.5,952L1855.2,951.8L1857.6,951.8L1860,954L1857.6,956.2L1834.9,956.4L1832.5,956.4Z"/>
<path d="M298.9,115L301.3,112.8L431.5,112.8L433.9,115L431.5,117.2L301.3,117.2Z"/>
<path d="M298.9,178L301.3,175.8L331.5,175.8L333.9,178L331.5,180.2L301.3,180.2ZM342.3,178L344.7,175.8L374.9,175.8L377.3,178L374.9,180.2L344.7,180.2ZM385.8,178L388.2,175.8L417.6,175.8L420,178L417.6,180.2L388.2,180.2Z"/>
</g>
<g id="labels" font-family="'Liberation Sans', Arial, Helvetica, sans-serif" font-weight="bold" fill="#000">
<text id="l1" font-size="48.3" x="-0.32 34.53 65.49 93.76 108.82 124.74 153.04 185.16 212.7 230.06 247.42 282.15 311.98" transform="translate(464.0,133) scale(0.93,1)">Nonlinear PFO</text>
<text id="l2" font-size="48.3" x="-0.32 34.53 65.49 93.76 108.82 124.74 153.04 185.16 212.7 230.06 247.42 280.75 316.07" transform="translate(464.0,196) scale(0.93,1)">Nonlinear PSO</text>
<text id="a1" font-size="48.3" x="-0.21 30.11 59.69 88.6 111.51 142.15 172.9 200.58 214.76 238.02 261.29 306.67 322.02 349.7 381.11" transform="translate(1108.0,338.7) scale(0.93,1)">phosphate mixed</text>
<text id="a2" font-size="48.3" x="0.33 30.65 60.23 89.14 112.05 142.69 173.76 202.09 216.37 239.38 262.38 292.05 322.37 337.7" transform="translate(1146.0,688.0) scale(0.93,1)">phosphate only</text>
<text id="a3" font-size="48.3" x="1 35.82 64.95 79.78 94.62 112.26 125.86 139.46 185.16 200.3 227.98 259.61" transform="translate(1133.0,879.9) scale(0.93,1)">Cu(II) mixed</text>
<text id="a4" font-size="48.3" x="0.14 35.07 64.3 79.14 94.09 111.61 125.6 139.59 169.04 199.14 214.15" transform="translate(1190.0,1036.9) scale(0.93,1)">Cu(II) only</text>
<text id="xt" font-size="75.5" x="1.12 46.49 63.04 130.84 174.85 196.6 218.35" transform="translate(909.0,1418) scale(0.97,1)">Time, h</text>
<text id="yt" font-size="75.5" x="-1.96 48.3 94.75 118.76 161.96 204.24 247.63 269.41 291.19 360.62 405.59 429.69" transform="translate(71.0,850.0) rotate(-90) scale(0.97,1)">Uptake, mg/g</text>
<text id="y0" font-size="48.3" x="1.03" transform="translate(151.0,1217.8) scale(0.985,1)">0</text>
<text id="y5" font-size="48.3" x="0.31" transform="translate(152.0,892) scale(0.985,1)">5</text>
<text id="y10" font-size="48.3" x="0.82 24.48" transform="translate(128.0,566) scale(0.985,1)">10</text>
<text id="y15" font-size="48.3" x="0.82 24.68" transform="translate(128.0,240.5) scale(0.985,1)">15</text>
<text id="x0" font-size="48.3" x="1.03" transform="translate(269.0,1298.7) scale(0.985,1)">0</text>
<text id="x10" font-size="48.3" x="0.41 24.68" transform="translate(587.0,1298.7) scale(0.985,1)">10</text>
<text id="x20" font-size="48.3" x="1.07 24.48" transform="translate(915.0,1298.7) scale(0.985,1)">20</text>
<text id="x30" font-size="48.3" x="1.12 24.07" transform="translate(1243.0,1298.7) scale(0.985,1)">30</text>
<text id="x40" font-size="48.3" x="0.99 25.19" transform="translate(1571.0,1298.7) scale(0.985,1)">40</text>
</g>
</svg>
</body>
</html>
